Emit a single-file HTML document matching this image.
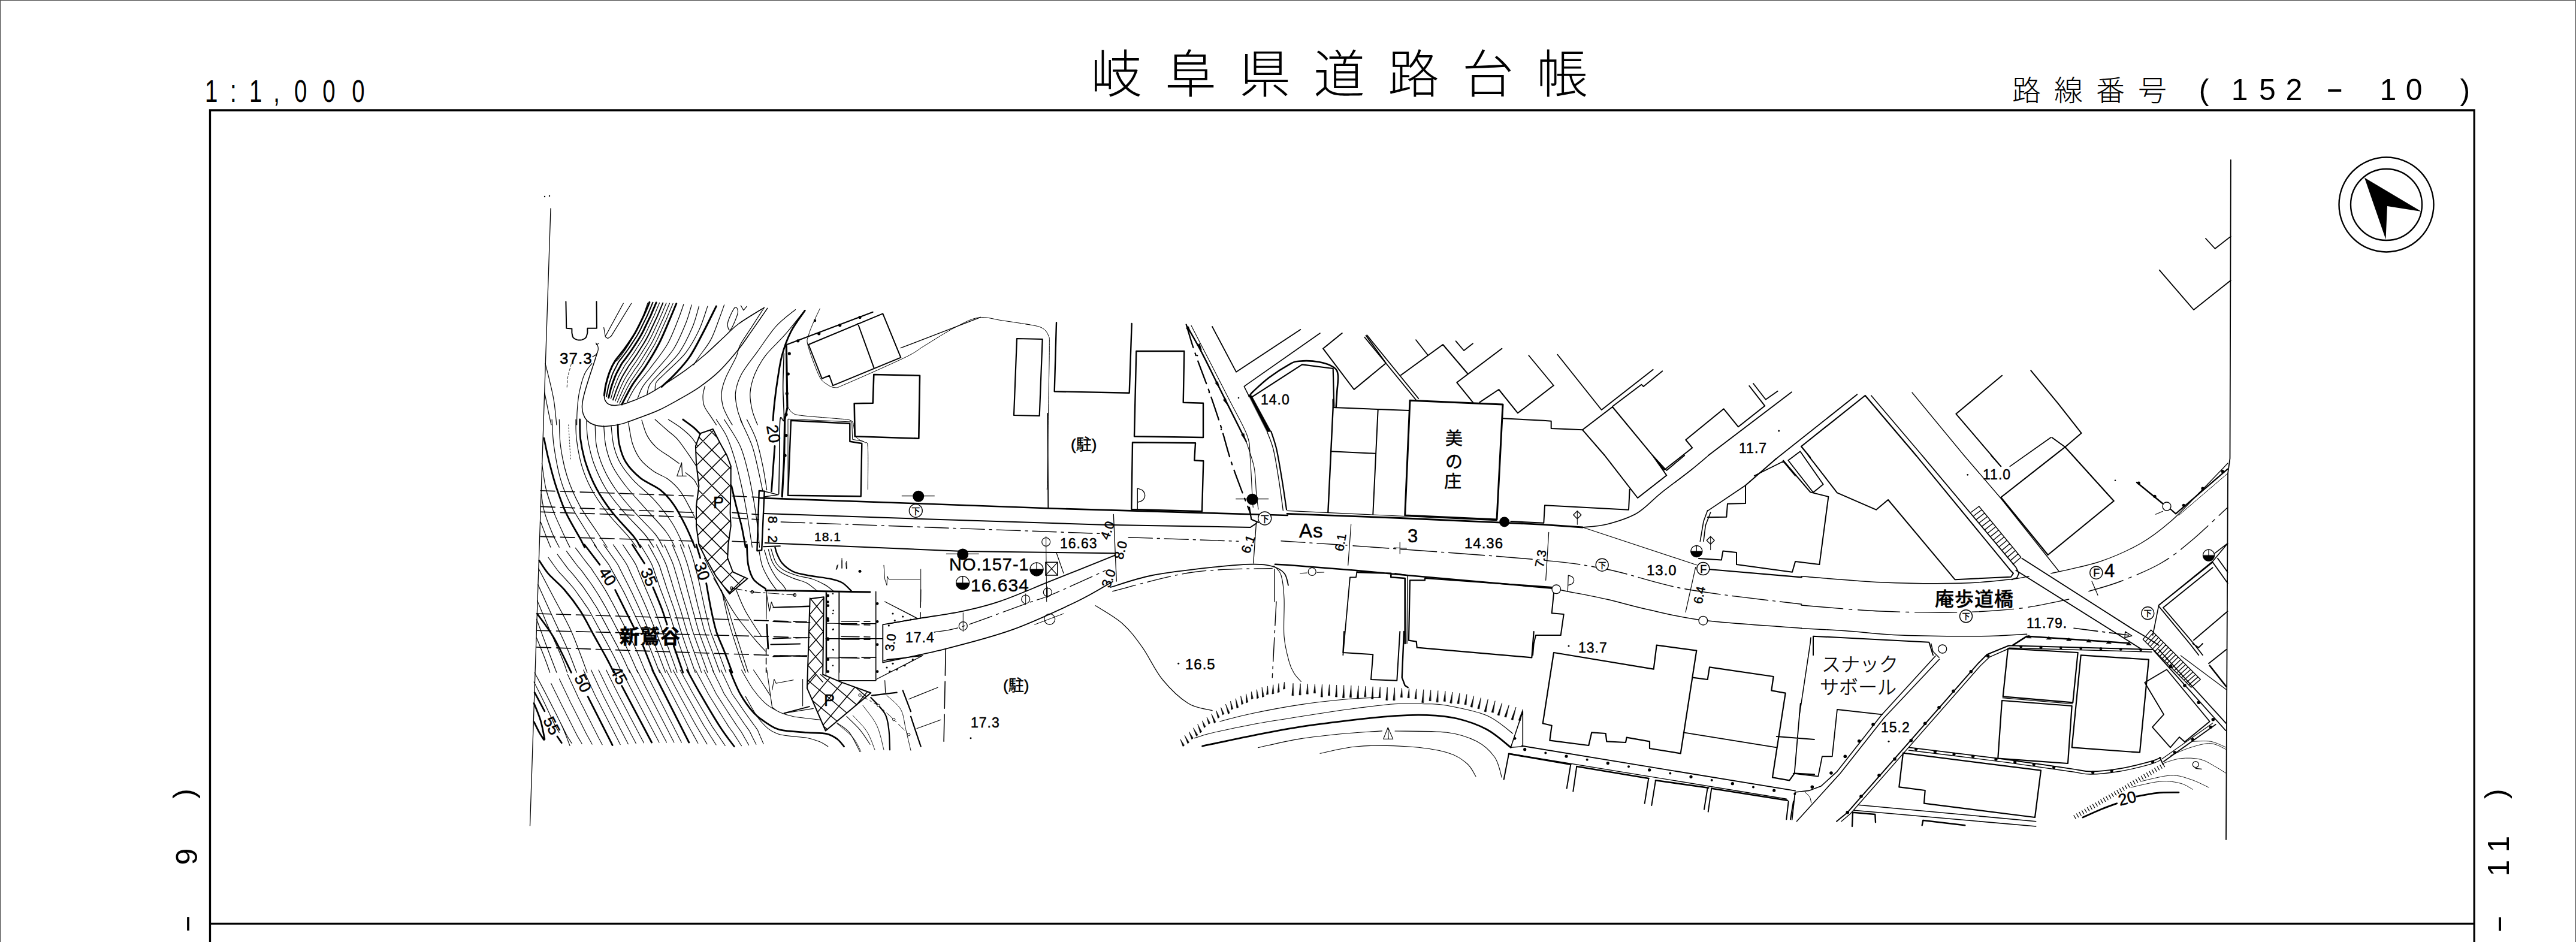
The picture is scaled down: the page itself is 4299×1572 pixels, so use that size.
<!DOCTYPE html>
<html lang="ja">
<head>
<meta charset="utf-8">
<title>岐阜県道路台帳</title>
<style>
html,body{margin:0;padding:0;background:#fff;}
body{width:4299px;height:1572px;overflow:hidden;}
svg{display:block;}
text{font-family:"Liberation Sans","Noto Sans CJK JP",sans-serif;fill:#000;}
.cj{font-family:"Liberation Sans","Noto Sans CJK JP",sans-serif;}
.l1{fill:none;stroke:#000;stroke-width:1.6;}
.l2{fill:none;stroke:#000;stroke-width:2.4;}
.l3{fill:none;stroke:#000;stroke-width:3.6;}
.l0{fill:none;stroke:#000;stroke-width:1;}
#map text{stroke:#000;stroke-width:.5px;}
</style>
</head>
<body>
<svg width="4299" height="1572" viewBox="0 0 4299 1572">
<rect x="0" y="0" width="4299" height="1572" fill="#fff"/>
<!-- outer border -->
<path d="M0 0.500H4299M0.500 0V1572M4298 0V1572" stroke="#555" stroke-width="1.500" fill="none"/>
<!-- frame -->
<path d="M350.500 1572V184H4129.200V1572M350.500 1541.300H4129.200" stroke="#000" stroke-width="3.300" fill="none"/>
<!-- header text -->
<g id="hdr">
<text transform="translate(0 170) scale(0.74 1)" text-anchor="middle" font-size="52" x="476.6 526.2 576.6 623.9 678.1 741.9 808.1">1:1,000</text>
<text class="cj" x="1820" y="155" font-size="86" font-weight="200" letter-spacing="38">岐阜県道路台帳</text>
<text class="cj" x="3358" y="168" font-size="48" font-weight="300" letter-spacing="22">路線番号</text>
<text text-anchor="middle" font-size="50" y="167"><tspan x="3678.2">(</tspan><tspan x="3708.0"> </tspan><tspan x="3737.7">1</tspan><tspan x="3783.9">5</tspan><tspan x="3828.4">2</tspan><tspan x="3862.0"> </tspan><tspan x="3896.3" y="164" textLength="30" lengthAdjust="spacingAndGlyphs">-</tspan><tspan x="3940.0" y="167"> </tspan><tspan x="3985.3">1</tspan><tspan x="4028.7">0</tspan><tspan x="4071.0"> </tspan><tspan x="4113.8">)</tspan></text>
</g>
<!-- compass -->
<g id="compass">
<circle cx="3982.500" cy="341.500" r="79" class="l2"/>
<circle cx="3982.500" cy="341.500" r="59.500" class="l2"/>
<path d="M3946 296.500L4041 353L3984 344L3981.500 399.500Z" fill="#000"/>
</g>
<!-- side labels -->
<g id="side">
<text transform="translate(311.0 1572) rotate(-90)" text-anchor="middle" font-size="50"><tspan x="30.5" y="15.5" textLength="31" lengthAdjust="spacingAndGlyphs">-</tspan><tspan x="82.0" y="17.9"> </tspan><tspan x="142.4" y="17.9">9</tspan><tspan x="192.0" y="17.9"> </tspan><tspan x="247.5" y="13.0">)</tspan></text>
<text transform="translate(4169.0 1572) rotate(-90)" text-anchor="middle" font-size="50"><tspan x="30.1" y="15.5" textLength="31" lengthAdjust="spacingAndGlyphs">-</tspan><tspan x="82.0" y="17.9"> </tspan><tspan x="123.3" y="17.9">1</tspan><tspan x="163.4" y="17.9">1</tspan><tspan x="202.0" y="17.9"> </tspan><tspan x="247.4" y="13.0">)</tspan></text>
</g>
<!-- MAP -->
<g id="map">
<path fill="none" stroke="#000" stroke-width="1.3" stroke-linejoin="round" stroke-linecap="round" d="M919 348L884.5 1378M1858.3 858.3L1863.3 970M2096.7 870L2091.7 940M2126.7 950L2126.7 1004M1898.3 815L1898.3 850M1898.3 815C1899.7 815.6 1904.6 816.4 1906.7 818.3C1908.7 820.3 1910.7 823.9 1910.7 826.7C1910.7 829.4 1908.7 833.1 1906.7 835C1904.6 836.9 1899.7 837.8 1898.3 838.3M1741 950L1740.6 952.8 1739.5 955.5 1737.8 957.8 1735.5 959.5 1732.8 960.6 1730 961 1727.2 960.6 1724.5 959.5 1722.2 957.8 1720.5 955.5 1719.4 952.8 1719 950 1719.4 947.2 1720.5 944.5 1722.2 942.2 1724.5 940.5 1727.2 939.4 1730 939 1732.8 939.4 1735.5 940.5 1737.8 942.2 1739.5 944.5 1740.6 947.2ZM1617.7 972.7L1617.3 975.5 1616.2 978.2 1614.4 980.4 1612.2 982.2 1609.5 983.3 1606.7 983.7 1603.8 983.3 1601.2 982.2 1598.9 980.4 1597.1 978.2 1596 975.5 1595.7 972.7 1596 969.8 1597.1 967.2 1598.9 964.9 1601.2 963.1 1603.8 962 1606.7 961.7 1609.5 962 1612.2 963.1 1614.4 964.9 1616.2 967.2 1617.3 969.8ZM1290 1014L1351.7 1012.3M2114.7 720.7C2116.4 725.7 2122.1 737.5 2125.3 751C2128.6 764.5 2131.7 784.8 2134.3 801.7C2137 818.5 2140.2 843.6 2141.3 852M2840.8 920L2840.5 922.5 2839.6 924.8 2838.1 926.7 2836.1 928.2 2833.8 929.2 2831.3 929.5 2828.9 929.2 2826.6 928.2 2824.6 926.7 2823.1 924.8 2822.2 922.5 2821.8 920 2822.2 917.5 2823.1 915.2 2824.6 913.3 2826.6 911.8 2828.9 910.8 2831.3 910.5 2833.8 910.8 2836.1 911.8 2838.1 913.3 2839.6 915.2 2840.5 917.5ZM2632.3 852.8L2638.8 859.3 2632.3 865.8 2625.8 859.3ZM2854.7 895.2L2861.2 901.7 2854.7 908.2 2848.2 901.7ZM3422.7 956.7C3424.9 956.2 3422.1 957.3 3436 954C3449.9 950.7 3483.2 944.6 3506 936.7C3528.8 928.8 3553.2 917.8 3572.7 906.7C3592.1 895.6 3606.6 883.9 3622.7 870C3638.8 856.1 3653.5 839.4 3669.3 823.3C3685.2 807.2 3709.6 781.7 3717.7 773.3M3695.5 926.7L3695.2 929.1 3694.2 931.4 3692.7 933.4 3690.8 934.9 3688.5 935.8 3686 936.2 3683.5 935.8 3681.2 934.9 3679.3 933.4 3677.8 931.4 3676.8 929.1 3676.5 926.7 3676.8 924.2 3677.8 921.9 3679.3 919.9 3681.2 918.4 3683.5 917.5 3686 917.2 3688.5 917.5 3690.8 918.4 3692.7 919.9 3694.2 921.9 3695.2 924.2ZM3191 655L3277.7 760M3185.3 1252C3210.1 1255.1 3289.2 1264.5 3333.7 1270.3C3378.1 1276.2 3426.2 1283.4 3452 1287C3477.8 1290.6 3474.2 1292 3488.7 1292C3503.1 1292 3522 1289.8 3538.7 1287C3555.3 1284.2 3577.6 1278.4 3588.7 1275.3C3599.8 1272.3 3602.6 1269.8 3605.3 1268.7M3461 1360.7L3464.2 1366.3M3465.5 1358L3468.7 1363.6M3470 1355.4L3473.2 1361M3474.5 1352.8L3477.7 1358.4M3479 1350.2L3482.2 1355.8M3483.5 1347.5L3486.7 1353.1M3488 1344.9L3491.2 1350.5M3492.5 1342.3L3495.7 1347.9M3497 1339.7L3500.2 1345.3M3501.5 1337L3504.7 1342.6M3505.9 1334.4L3509.1 1340M3510.4 1331.8L3513.6 1337.4M3514.9 1329.2L3518.1 1334.8M3519.4 1326.5L3522.6 1332.1M3523.9 1323.9L3527.1 1329.5M3528.4 1321.3L3531.6 1326.9M3532.9 1318.6L3536.1 1324.2M3537.4 1316L3540.6 1321.6M3541.9 1313.4L3545.1 1319M3546.4 1310.8L3549.6 1316.4M3550.9 1308.1L3554.1 1313.7M3555.4 1305.5L3558.6 1311.1M3559.9 1302.9L3563.1 1308.5M3564.4 1300.3L3567.6 1305.9M3568.9 1297.6L3572.1 1303.2M3573.4 1295L3576.6 1300.6M3577.9 1292.4L3581.1 1298M3582.4 1289.8L3585.6 1295.4M3586.9 1287.1L3590.1 1292.7M3591.4 1284.5L3594.6 1290.1M3595.8 1281.9L3599 1287.5M3600.3 1279.3L3603.5 1284.9M3604.8 1276.6L3608 1282.2M3609.3 1274L3612.5 1279.6"/>
<path fill="none" stroke="#000" stroke-width="2" stroke-linejoin="round" stroke-linecap="round" d="M944.4 503.3L945.3 547.7 954.4 548.4 954.4 555.5M954.4 555.5C954.8 556.8 955.1 561.4 956.6 563.3C958.1 565.2 960.9 566.4 963.3 567.1C965.7 567.7 968.7 567.7 971.1 567.1C973.5 566.4 976.2 565.2 977.7 563.3C979.3 561.4 979.9 556.8 980.4 555.5M980.4 555.5L980.4 547.7 995.9 547.7 995.5 503.3M1012 661.8C1012.3 660.5 1013 656.8 1013.5 654.3C1014 651.8 1014.4 649.3 1015 646.8C1015.6 644.3 1016.3 641.9 1017.1 639.4C1017.8 637 1018.7 634.5 1019.5 632.1C1020.3 629.7 1021 627.2 1021.9 624.9C1022.9 622.5 1024 620.2 1025.1 617.9C1026.2 615.6 1027.5 613.4 1028.7 611.1C1029.8 608.8 1030.9 606.5 1032.2 604.3C1033.6 602.2 1035.3 600.2 1036.9 598.2C1038.4 596.1 1040 594.1 1041.5 592C1043 590 1044.6 588 1046.1 585.9C1047.6 583.8 1049 581.7 1050.5 579.6C1051.9 577.4 1053.3 575.3 1054.7 573.1C1056.1 571 1057.5 568.9 1058.9 566.7C1060.3 564.6 1061.7 562.4 1063.1 560.2C1064.4 558 1065.7 555.8 1066.9 553.6C1068.1 551.3 1069.1 549 1070.3 546.7C1071.4 544.4 1072.5 542.1 1073.7 539.8C1074.8 537.5 1075.9 535.2 1077.1 532.9C1078.2 530.6 1079.4 528.3 1080.4 526C1081.5 523.6 1082.5 521.3 1083.5 518.9C1084.5 516.5 1085.5 514.2 1086.5 511.8C1087.5 509.4 1089 505.9 1089.5 504.7M1023 667.4C1023.4 666.2 1024.7 662.5 1025.6 660C1026.4 657.5 1027.2 655 1028.1 652.6C1029 650.1 1030 647.7 1031 645.2C1032 642.8 1033 640.3 1034.1 637.9C1035.1 635.5 1036.2 633.1 1037.4 630.7C1038.6 628.4 1039.9 626.1 1041.3 623.8C1042.6 621.6 1044 619.3 1045.4 617C1046.8 614.8 1048 612.5 1049.5 610.3C1051 608.1 1052.7 606 1054.2 603.8C1055.8 601.7 1057.2 599.5 1058.7 597.3C1060.2 595.1 1061.7 592.9 1063.2 590.7C1064.6 588.4 1066 586.2 1067.5 584C1068.9 581.7 1070.3 579.5 1071.7 577.2C1073.1 575 1074.6 572.7 1075.9 570.4C1077.3 568.2 1078.6 565.9 1079.8 563.5C1081.1 561.2 1082.3 558.8 1083.5 556.5C1084.6 554.1 1085.7 551.7 1086.9 549.2C1088 546.8 1089.1 544.4 1090.3 542C1091.4 539.6 1092.5 537.2 1093.6 534.8C1094.8 532.4 1095.9 530 1097 527.6C1098.1 525.2 1099.1 522.7 1100.1 520.3C1101.2 517.8 1102.2 515.4 1103.2 512.9C1104.2 510.5 1105.8 506.8 1106.3 505.6M1168.7 723.3L1189.8 716 1202 740 1213.1 760 1219.7 777.7 1219.7 806.6 1218.6 855.4 1219.7 877.6 1215.3 908.9 1214.2 931.2 1223.1 954.5 1247.5 965.6 1217.5 991.1 1195.3 962.2 1177.5 931.2 1166.4 908.9 1162 877.6 1162 844.3 1166.4 811 1162 773.3 1160.9 744.4ZM1274.1 912.3L1301.9 911.2M1286.4 1075.5L1335.2 1074.4M1301.9 1094.4L1335.2 1094.4M1351.7 999.3L1374.8 996.2 1373.2 1125.5 1402.5 1137.9 1453.3 1156.3 1377.8 1219.5 1347 1148.6ZM1308.6 1190.2L1350.7 1179.1M1313.3 575L1456.7 520.7M1349.3 575L1473.3 523.3 1503.3 596.7 1390 643.3 1384 626.7 1371.7 631.7ZM1431.7 540L1458.3 613.3M1275.7 857L1530 865.7 1840 875.7 2086.7 880 2096.7 873.3M1276.7 906L1606.7 920 1860 923.3M2239.7 556L2208 581.7 2259.7 650 2313 606 2279.7 560M2338 626L2408 575 2449.7 624M2506.3 581.7L2431.3 638.3 2458 671.3M2469.3 671.3L2501.3 650 2533 689.3 2592.7 643.3M2224.7 680L2351.3 685M2299.7 683.3L2291.3 858.3M2221.3 753.3L2294.7 756.7M2521.3 870L2576.3 872.7 2578 843.3 2718 850.7 2719.7 816.7M2678 760L2733 831 2781.3 793.3 2758 760M2964.7 765L2913 810 2913 840 2883 840.7 2881.3 862.7 2849.7 863.3M2593 990L2589.7 1023.3 2609.7 1025 2604.7 1060 2563 1060 2559.7 1074 2558 1093.3M2243 1054L2241.3 1089 2291.3 1092.3 2288 1134 2331.3 1135.7 2336.3 1054M2518 1258L2509.7 1300.7M2621.3 1275.7L2614.7 1315.7M2631.3 1279L2625.3 1320.7M2751.3 1299L2744.7 1340.7M2763 1302.3L2756.3 1344M2849.7 1314.7L2844 1350.7M2856.3 1315.7L2850.7 1354.7M2984.7 1337.3L2981.3 1367.3M2993 1337.3L2988 1367.3M2976 768.5L3021.3 821.4 3051.4 828.9 3036.4 942.1 2996.1 937.1 2991 954.7 2898 942.1 2898 922 2875.4 919.5 2872.8 934.6 2835 932M3017.7 760L3066 822.3 3131 850.7 3151 834 3262.7 967.3 3356 962.7 3360 956.7 3354.3 950.7 3197.7 760M3026 1093.3L3026 1061.7 3219.3 1071.7 3226 1093.3M2508 698.3L2576 701.7 2588.7 702.7 2588.7 715 2641 717.3M2641 717.3L2691 679 2777.7 784 2824.3 747.3 2813.3 734 2876.7 682.3 2901 712.3 2945.3 677.3 2919.3 644M2641 717.3L2678 760M3341 626.7L3264.3 690.7 3339.3 778.3M3389.3 618.3L3434.7 673.3 3473.6 722.8 3446.4 746 3424.3 730M3592.7 1084L3352.7 1077.3 3316 1092.3 3301 1107.3 3083.3 1355.7 3065 1370.7M3604.3 1264L3610 1275.7"/>
<path fill="none" stroke="#000" stroke-width="1.2" stroke-linejoin="round" stroke-linecap="round" d="M1007.7 546.6L1010.4 562.2 1014.4 564.8 1019.9 561.1 1053.7 506.2M1011 560L1040.3 506.2M994.4 572.2C994.9 573.1 997.1 575.7 997.7 577.7C998.3 579.8 998.5 582.2 998.1 584.4C997.8 586.6 997 589.2 995.5 591C993.9 592.9 989.9 594.7 988.8 595.5M995 575.5L998.8 573.3M1019.4 665.5C1019.7 664.3 1020.8 660.6 1021.5 658.1C1022.3 655.6 1022.9 653.1 1023.7 650.6C1024.5 648.2 1025.4 645.7 1026.4 643.3C1027.3 640.8 1028.2 638.4 1029.2 636C1030.2 633.6 1031.1 631.1 1032.2 628.8C1033.3 626.4 1034.6 624.1 1035.9 621.9C1037.1 619.6 1038.5 617.3 1039.8 615.1C1041.1 612.8 1042.3 610.5 1043.7 608.3C1045.2 606.1 1046.9 604.1 1048.5 602C1050 599.8 1051.5 597.7 1053 595.5C1054.5 593.4 1056 591.2 1057.5 589.1C1058.9 586.9 1060.4 584.7 1061.8 582.5C1063.2 580.3 1064.6 578.1 1066 575.8C1067.4 573.6 1068.9 571.4 1070.2 569.2C1071.6 567 1073 564.7 1074.2 562.4C1075.5 560.2 1076.8 557.8 1077.9 555.5C1079.1 553.2 1080.2 550.8 1081.3 548.4C1082.5 546 1083.6 543.6 1084.7 541.3C1085.9 538.9 1087 536.5 1088.1 534.2C1089.2 531.8 1090.4 529.4 1091.5 527C1092.6 524.7 1093.6 522.2 1094.6 519.8C1095.6 517.4 1096.6 515 1097.6 512.5C1098.6 510.1 1100.2 506.5 1100.7 505.3M1026.7 669.3C1027.2 668.1 1028.6 664.4 1029.6 661.9C1030.6 659.4 1031.5 657 1032.5 654.5C1033.5 652 1034.6 649.6 1035.6 647.1C1036.7 644.7 1037.8 642.2 1038.9 639.8C1040.1 637.4 1041.2 635 1042.5 632.7C1043.8 630.4 1045.2 628.1 1046.6 625.8C1048.1 623.5 1049.5 621.3 1051 619C1052.4 616.8 1053.7 614.5 1055.3 612.2C1056.8 610 1058.5 607.9 1060 605.7C1061.6 603.5 1063 601.2 1064.4 599C1065.9 596.8 1067.4 594.5 1068.8 592.3C1070.3 590 1071.7 587.7 1073.1 585.4C1074.5 583.1 1075.9 580.9 1077.3 578.6C1078.8 576.3 1080.2 574 1081.6 571.7C1082.9 569.4 1084.2 567 1085.4 564.6C1086.7 562.3 1087.8 559.8 1089 557.4C1090.2 555 1091.3 552.5 1092.4 550.1C1093.5 547.7 1094.7 545.2 1095.8 542.8C1096.9 540.4 1098.1 537.9 1099.2 535.5C1100.3 533 1101.4 530.6 1102.5 528.1C1103.6 525.7 1104.6 523.2 1105.7 520.7C1106.7 518.2 1107.7 515.7 1108.8 513.3C1109.8 510.8 1111.4 507.1 1111.9 505.8M1030.3 671.2C1030.9 670 1032.5 666.3 1033.6 663.8C1034.7 661.4 1035.7 658.9 1036.9 656.4C1038 654 1039.1 651.5 1040.3 649.1C1041.4 646.6 1042.6 644.2 1043.8 641.8C1045 639.3 1046.3 637 1047.7 634.6C1049 632.3 1050.6 630.1 1052 627.8C1053.5 625.5 1055 623.3 1056.5 621C1058 618.7 1059.5 616.4 1061 614.2C1062.6 612 1064.3 609.9 1065.8 607.6C1067.3 605.4 1068.7 603 1070.2 600.7C1071.6 598.4 1073.1 596.2 1074.5 593.8C1076 591.5 1077.4 589.2 1078.8 586.9C1080.2 584.6 1081.6 582.2 1083 579.9C1084.4 577.6 1085.9 575.3 1087.2 572.9C1088.6 570.6 1089.8 568.2 1091 565.7C1092.2 563.3 1093.4 560.9 1094.5 558.4C1095.7 555.9 1096.8 553.4 1097.9 551C1099.1 548.5 1100.2 546 1101.3 543.5C1102.5 541.1 1103.6 538.6 1104.7 536.1C1105.8 533.7 1107 531.2 1108 528.7C1109.1 526.2 1110.2 523.7 1111.2 521.2C1112.3 518.7 1113.3 516.1 1114.4 513.6C1115.4 511.1 1117 507.4 1117.5 506.1M1034 673.1C1034.6 671.9 1036.4 668.2 1037.6 665.7C1038.8 663.3 1040 660.8 1041.2 658.4C1042.5 655.9 1043.7 653.5 1044.9 651C1046.2 648.6 1047.4 646.1 1048.7 643.7C1050 641.3 1051.4 638.9 1052.8 636.6C1054.3 634.3 1055.9 632 1057.4 629.8C1059 627.5 1060.5 625.3 1062.1 623C1063.7 620.7 1065.2 618.4 1066.8 616.2C1068.4 613.9 1070.1 611.8 1071.6 609.5C1073.1 607.2 1074.5 604.8 1075.9 602.5C1077.3 600.1 1078.8 597.8 1080.2 595.4C1081.6 593.1 1083 590.7 1084.4 588.4C1085.9 586 1087.3 583.6 1088.7 581.3C1090.1 578.9 1091.6 576.6 1092.9 574.2C1094.2 571.8 1095.4 569.3 1096.6 566.8C1097.8 564.4 1098.9 561.9 1100.1 559.4C1101.2 556.9 1102.3 554.3 1103.5 551.8C1104.6 549.3 1105.7 546.8 1106.9 544.3C1108 541.8 1109.1 539.3 1110.2 536.8C1111.4 534.3 1112.5 531.8 1113.6 529.2C1114.6 526.7 1115.7 524.2 1116.7 521.6C1117.8 519.1 1118.9 516.5 1119.9 514C1121 511.5 1122.6 507.7 1123.1 506.4M1024.3 604.4C1025.8 603.3 1028 604.4 1033.2 597.7C1038.4 591 1049.1 575.1 1055.4 564.4C1061.7 553.7 1066.7 543.1 1071 533.3C1075.2 523.5 1079.3 510.2 1081 505.6M1046.6 671C1048.8 666.9 1053.6 655.8 1059.9 646.6C1066.2 637.3 1075.4 627.3 1084.3 615.5C1093.2 603.6 1105.4 588.8 1113.2 575.5C1120.9 562.2 1126.3 546.8 1130.9 535.5C1135.6 524.2 1139.3 512.4 1140.9 507.8M1064.3 664.3C1065.8 661 1068.4 651.7 1073.2 644.3C1078 636.9 1084.7 630.3 1093.2 619.9C1101.7 609.5 1115.8 595.5 1124.3 582.2C1132.8 568.8 1139.3 552.2 1144.3 540C1149.3 527.8 1152.6 514.1 1154.2 508.9M1079.9 657.7C1080.6 655.1 1081 647.7 1084.3 642.1C1087.6 636.6 1091.7 633.2 1099.8 624.3C1108 615.5 1123.9 601.8 1133.2 588.8C1142.4 575.9 1149.8 559.6 1155.4 546.6C1160.9 533.7 1164.6 517 1166.5 511.1M1093.2 651C1093.6 648.8 1092.4 642.5 1095.4 637.7C1098.4 632.9 1102.8 630.3 1110.9 622.1C1119.1 614 1135 600.7 1144.3 588.8C1153.5 577 1160.4 564 1166.5 551.1C1172.6 538.1 1178.5 517.8 1180.9 511.1M1157.6 608.8C1159.1 606.6 1161.6 602.5 1166.5 595.5C1171.3 588.4 1180.9 577 1186.4 566.6C1192 556.3 1196.1 542.9 1199.8 533.3C1203.5 523.7 1207.2 513 1208.6 508.9M1226.4 513.3C1229.1 511.1 1232.3 516.3 1231.3 522.2C1230.3 528.1 1222.9 544.6 1220.2 548.9C1217.5 553.1 1216.1 550 1215.3 547.7C1214.5 545.5 1213.5 541.3 1215.3 535.5C1217.2 529.8 1223.7 515.5 1226.4 513.3ZM1236.4 510L1240.8 517.8 1246.4 511.1M1176.5 644.3C1175.9 646.9 1173.3 654.3 1173.1 659.9C1172.9 665.4 1173.1 671.7 1175.3 677.6C1177.6 683.6 1183.1 690.2 1186.4 695.4C1189.8 700.6 1193.8 706.7 1195.3 708.9M1275.3 513.3C1271.9 518.5 1261.9 534 1255.3 544.4C1248.6 554.8 1239.7 567 1235.3 575.5C1230.9 584 1232.7 586.2 1228.6 595.5C1224.6 604.7 1214.9 621 1210.9 631C1206.8 641 1204.9 647.7 1204.2 655.4C1203.5 663.2 1204.6 670.6 1206.4 677.6C1208.3 684.7 1212.7 692.4 1215.3 697.6C1217.9 702.8 1220.9 707.1 1222 708.9M1327.4 516.7C1322.1 521.3 1305.8 532.8 1295.2 544.4C1284.7 556.1 1273.8 573.3 1264.2 586.6C1254.5 599.9 1243.6 612.9 1237.5 624.3C1231.4 635.8 1228.6 645.4 1227.5 655.4C1226.4 665.4 1228.8 675.4 1230.9 684.3C1232.9 693.2 1238.3 704.8 1239.7 708.9M1343 517.8C1337.6 524.4 1321.7 545.2 1310.8 557.7C1299.9 570.3 1286 582.2 1277.5 593.3C1269 604.4 1264 614 1259.7 624.3C1255.5 634.7 1252.7 645.4 1251.9 655.4C1251.2 665.4 1253.2 675.4 1255.3 684.3C1257.3 693.2 1262.7 704.8 1264.2 708.9M910 606.6C911.1 611 914.2 622.9 916.7 633.2C919.1 643.6 922.4 656.1 924.4 668.8C926.5 681.4 928.1 702.3 928.9 708.9M908.9 655.4C910 661 913.7 679.8 915.5 688.7C917.4 697.7 919.2 705.6 920 708.9M987.7 606.6C985.7 609.5 979 616.2 975.5 624.3C972 632.5 968.7 645.4 966.6 655.4C964.6 665.4 964 675.4 963.3 684.3C962.6 693.2 962.7 704.8 962.6 708.9M904.4 773.3C905.5 780.3 907.8 801.8 911.1 815.5C914.4 829.2 918.9 841.4 924.4 855.4C930 869.5 940 890.2 944.4 899.8C948.8 909.5 949.9 910.9 951.1 913.2M903.3 824.3C904.2 829.5 905.7 844.3 908.9 855.4C912 866.5 918.1 881.3 922.2 891C926.3 900.6 931.4 909.5 933.3 913.2M902.2 871C904.1 875.8 910.5 892.8 913.3 899.8C916.1 906.9 917.9 910.9 918.9 913.2M921.1 700C921.6 707.4 922 727.8 924.4 744.4C926.8 761.1 930.7 783.3 935.5 799.9C940.3 816.6 945.9 829.5 953.3 844.3C960.7 859.1 972.9 877.3 979.9 888.7C987 900.2 992.9 909.1 995.5 913.2M933.3 700C933.7 707.4 933.3 728.5 935.5 744.4C937.7 760.3 941.4 779.2 946.6 795.5C951.8 811.8 958.5 826.9 966.6 842.1C974.7 857.3 987.7 874.7 995.5 886.5C1003.2 898.4 1010.3 908.7 1013.2 913.2M961 700C961.2 705.6 960.5 720.4 962.2 733.3C963.8 746.3 967 764 971 777.7C975.1 791.4 979.6 802.5 986.6 815.5C993.6 828.4 1002.9 842.1 1013.2 855.4C1023.6 868.8 1040.6 885.8 1048.8 895.4C1056.9 905 1059.9 910.2 1062.1 913.2M978.8 702.2C979.2 707.4 979 721.5 981 733.3C983.1 745.2 986 759.6 991 773.3C996 787 1002.9 802.1 1011 815.5C1019.2 828.8 1029.1 840.6 1039.9 853.2C1050.6 865.8 1066.9 881 1075.4 891C1083.9 901 1088.4 909.5 1090.9 913.2M993.2 710C993.6 715.7 993.2 732.8 995.5 744.4C997.7 756.1 1001.4 768.1 1006.6 779.9C1011.7 791.8 1018 803.3 1026.6 815.5C1035.1 827.7 1046.5 840.6 1057.6 853.2C1068.7 865.8 1085 881 1093.2 891C1101.3 901 1104.3 909.5 1106.5 913.2M1007.7 710.7C1008.2 716.3 1008.6 733.2 1011 744.4C1013.4 755.6 1016.6 766.6 1022.1 777.7C1027.7 788.8 1035.4 799.6 1044.3 811C1053.2 822.5 1064.3 834 1075.4 846.6C1086.5 859.1 1102.4 875.4 1110.9 886.5C1119.4 897.6 1123.9 908.7 1126.5 913.2M1019.9 710C1020.6 715.7 1021.7 733.9 1024.3 744.4C1026.9 755 1029.9 763.7 1035.4 773.3C1041 782.9 1048.4 792.2 1057.6 802.1C1066.9 812.1 1080.2 821.4 1090.9 833.2C1101.7 845.1 1113.5 859.9 1122 873.2C1130.5 886.5 1138.7 906.5 1142 913.2M1048.8 705.6C1049.9 711.3 1052.1 729.8 1055.4 740C1058.7 750.1 1062.8 758.8 1068.7 766.6C1074.7 774.4 1083.2 781 1090.9 786.6C1098.7 792.2 1108 794.4 1115.4 799.9C1122.8 805.5 1129.1 811.4 1135.4 819.9C1141.6 828.4 1148.7 842.9 1153.1 851C1157.6 859.1 1160.5 865.8 1162 868.8M1071 701.1C1072.4 705.4 1075.8 719.1 1079.8 726.6C1083.9 734.2 1089.1 740.7 1095.4 746.6C1101.7 752.6 1111.3 757.7 1117.6 762.2C1123.9 766.6 1130.5 771.4 1133.1 773.3M1144.2 788.8C1146.5 790.7 1154 795.9 1157.6 799.9C1161.1 804 1164 811 1165.3 813.2M1093.2 700C1096.5 703 1106.9 712.2 1113.2 717.8C1119.4 723.3 1125 726.6 1130.9 733.3C1136.8 740 1143.5 750.3 1148.7 757.7C1153.9 765.1 1159.8 774.4 1162 777.7M1115.4 700C1118.7 702.2 1129.1 708.5 1135.4 713.3C1141.6 718.1 1148.3 723.7 1153.1 728.9C1157.9 734 1162.4 741.8 1164.2 744.4M1195.3 700C1198.3 704.8 1207.9 717.8 1213.1 728.9C1218.3 740 1222.3 752.9 1226.4 766.6C1230.5 780.3 1234.2 796.2 1237.5 811C1240.8 825.8 1243.4 838.4 1246.4 855.4C1249.3 872.5 1253.8 903.5 1255.3 913.2M1208.6 700C1213.1 707.4 1228.6 729.6 1235.3 744.4C1241.9 759.2 1244.9 774 1248.6 788.8C1252.3 803.6 1254.9 818.4 1257.5 833.2C1260.1 848 1262.5 864.3 1264.1 877.6C1265.8 891 1266.9 907.2 1267.5 913.2M1235.3 700C1238.6 707.4 1250.1 729.6 1255.3 744.4C1260.4 759.2 1263.4 776.2 1266.4 788.8C1269.3 801.4 1271.9 814.7 1273 819.9M1246.4 700C1249 705.6 1257.5 720.4 1261.9 733.3C1266.4 746.3 1270.1 763.7 1273 777.7C1276 791.8 1278.6 811 1279.7 817.7M1137.6 772.2L1129.8 794.4 1145.3 794.4M1137.6 772.2L1138.7 794.4M915.1 930.3C916 931.7 918.9 935.7 920.9 938.4C922.8 941.1 924.7 943.9 926.7 946.5C928.6 949.2 930.5 951.9 932.7 954.4C934.8 956.9 937.3 959.2 939.5 961.7C941.8 964.1 943.9 966.6 946.2 969C948.4 971.5 950.6 973.9 952.8 976.4C955 978.9 957.1 981.4 959.1 984C961.1 986.6 963 989.4 964.9 992.1C966.8 994.8 968.8 997.5 970.7 1000.2C972.6 1002.9 974.4 1005.6 976.3 1008.4C978.2 1011.1 980.2 1013.7 982 1016.5C983.7 1019.3 985.2 1022.3 986.8 1025.2C988.4 1028.1 990 1031 991.6 1034C993.2 1036.9 994.8 1039.8 996.3 1042.7C997.9 1045.6 999.5 1048.5 1001.1 1051.5C1002.7 1054.4 1004.3 1057.3 1005.9 1060.2C1007.4 1063.1 1009 1066 1010.6 1068.9C1012.2 1071.9 1013.8 1074.8 1015.4 1077.7C1016.9 1080.6 1018.5 1083.5 1020 1086.5C1021.6 1089.4 1023.1 1092.3 1024.6 1095.3C1026.1 1098.3 1027.6 1101.2 1029.1 1104.2C1030.5 1107.2 1031.9 1110.2 1033.4 1113.2C1034.8 1116.2 1036.9 1120.7 1037.7 1122.2M930.2 925C931.2 926.4 934.1 930.4 936.1 933.2C938.1 935.9 940.1 938.6 942.1 941.3C944.1 944 946.1 946.8 948.2 949.4C950.4 952 952.8 954.3 954.9 956.9C957.1 959.4 959.2 962.1 961.3 964.7C963.4 967.3 965.6 969.8 967.6 972.5C969.7 975.1 971.8 977.7 973.7 980.4C975.7 983.2 977.6 986 979.5 988.8C981.3 991.6 983.2 994.3 985.1 997.2C986.9 1000 988.7 1002.8 990.5 1005.7C992.3 1008.5 994.2 1011.3 995.9 1014.1C997.6 1017 999.2 1020 1000.8 1023C1002.4 1026 1003.9 1029 1005.5 1031.9C1007.1 1034.9 1008.7 1037.9 1010.3 1040.9C1011.8 1043.8 1013.4 1046.8 1015 1049.8C1016.6 1052.8 1018.2 1055.7 1019.8 1058.7C1021.3 1061.7 1022.9 1064.7 1024.5 1067.6C1026.1 1070.6 1027.7 1073.6 1029.3 1076.6C1030.8 1079.6 1032.3 1082.6 1033.8 1085.6C1035.3 1088.6 1036.8 1091.6 1038.3 1094.7C1039.7 1097.7 1041.2 1100.7 1042.6 1103.8C1044 1106.8 1045.4 1109.9 1046.8 1113C1048.2 1116 1050.3 1120.6 1051 1122.2M945.3 919.7C946.3 921 949.4 925.2 951.4 927.9C953.4 930.7 955.4 933.4 957.5 936.2C959.6 938.9 961.6 941.6 963.7 944.3C965.9 947 968.2 949.5 970.4 952.1C972.5 954.8 974.4 957.6 976.4 960.3C978.4 963.1 980.5 965.8 982.5 968.5C984.5 971.3 986.5 974.1 988.4 976.9C990.3 979.7 992.2 982.6 994 985.5C995.9 988.3 997.7 991.2 999.5 994.1C1001.3 997 1002.9 1000 1004.7 1002.9C1006.4 1005.9 1008.2 1008.8 1009.9 1011.8C1011.5 1014.7 1013.1 1017.8 1014.7 1020.8C1016.3 1023.8 1017.8 1026.9 1019.4 1029.9C1021 1033 1022.6 1036 1024.2 1039C1025.7 1042.1 1027.3 1045.1 1028.9 1048.1C1030.5 1051.2 1032.1 1054.2 1033.7 1057.2C1035.2 1060.3 1036.8 1063.3 1038.4 1066.3C1040 1069.4 1041.6 1072.4 1043.1 1075.5C1044.7 1078.5 1046.2 1081.6 1047.6 1084.7C1049.1 1087.8 1050.5 1090.9 1051.9 1094C1053.3 1097.1 1054.7 1100.2 1056.1 1103.4C1057.5 1106.5 1058.8 1109.6 1060.2 1112.8C1061.6 1115.9 1063.6 1120.6 1064.3 1122.2M960.4 914.3C961.4 915.7 964.6 919.9 966.7 922.7C968.7 925.4 970.8 928.2 972.9 931C975 933.7 977.1 936.5 979.3 939.3C981.4 942 983.7 944.6 985.8 947.4C987.8 950.2 989.6 953.1 991.5 956C993.5 958.9 995.4 961.7 997.3 964.6C999.2 967.5 1001.1 970.4 1003 973.3C1004.9 976.2 1006.8 979.2 1008.6 982.1C1010.4 985.1 1012.2 988.1 1013.9 991.1C1015.6 994.1 1017.2 997.2 1018.9 1000.2C1020.5 1003.3 1022.2 1006.3 1023.8 1009.4C1025.5 1012.4 1027 1015.5 1028.6 1018.6C1030.2 1021.7 1031.8 1024.8 1033.3 1027.9C1034.9 1031 1036.5 1034.1 1038.1 1037.2C1039.7 1040.3 1041.2 1043.4 1042.8 1046.5C1044.4 1049.6 1046 1052.7 1047.5 1055.8C1049.1 1058.9 1050.7 1062 1052.3 1065C1053.9 1068.1 1055.5 1071.2 1057 1074.3C1058.5 1077.5 1060 1080.6 1061.4 1083.8C1062.8 1086.9 1064.2 1090.2 1065.5 1093.3C1066.9 1096.5 1068.2 1099.7 1069.6 1102.9C1070.9 1106.1 1072.3 1109.3 1073.6 1112.6C1074.9 1115.8 1077 1120.6 1077.6 1122.2M991.5 909C992.5 910.4 995.6 914.6 997.7 917.4C999.8 920.2 1001.9 923 1003.9 925.8C1006 928.6 1008.1 931.4 1010.2 934.2C1012.2 937 1014.4 939.8 1016.3 942.7C1018.1 945.6 1019.6 948.8 1021.3 951.8C1023 954.9 1024.7 957.9 1026.4 960.9C1028.1 964 1029.8 967 1031.4 970.1C1033.1 973.1 1034.8 976.1 1036.5 979.2C1038.2 982.2 1039.8 985.3 1041.4 988.4C1043 991.5 1044.4 994.7 1046 997.8C1047.5 1001 1049 1004.1 1050.5 1007.3C1052 1010.4 1053.5 1013.5 1055 1016.7C1056.5 1019.8 1058 1023 1059.4 1026.2C1060.9 1029.3 1062.4 1032.5 1063.9 1035.6C1065.3 1038.8 1066.8 1041.9 1068.3 1045.1C1069.7 1048.3 1071.2 1051.4 1072.6 1054.6C1074.1 1057.8 1075.6 1060.9 1077 1064.1C1078.5 1067.2 1080 1070.4 1081.4 1073.6C1082.8 1076.7 1084.2 1079.9 1085.5 1083.2C1086.8 1086.4 1088 1089.7 1089.3 1092.9C1090.6 1096.2 1091.8 1099.4 1093.1 1102.7C1094.4 1105.9 1095.6 1109.2 1096.9 1112.4C1098.2 1115.7 1100.1 1120.5 1100.7 1122.2M1007.5 909C1008.5 910.4 1011.5 914.6 1013.5 917.4C1015.5 920.2 1017.5 923 1019.5 925.8C1021.5 928.6 1023.6 931.4 1025.5 934.2C1027.5 937 1029.6 939.8 1031.3 942.8C1033 945.7 1034.4 948.9 1035.9 952C1037.5 955 1039 958.1 1040.6 961.2C1042.1 964.2 1043.7 967.3 1045.2 970.3C1046.8 973.4 1048.4 976.5 1049.9 979.5C1051.4 982.6 1053 985.7 1054.5 988.8C1056 991.9 1057.4 995 1058.9 998.2C1060.3 1001.3 1061.8 1004.4 1063.2 1007.5C1064.7 1010.7 1066.1 1013.8 1067.5 1017C1068.9 1020.1 1070.2 1023.3 1071.6 1026.4C1073 1029.6 1074.4 1032.7 1075.7 1035.9C1077.1 1039.1 1078.4 1042.2 1079.8 1045.4C1081.1 1048.6 1082.5 1051.7 1083.8 1054.9C1085.2 1058.1 1086.5 1061.2 1087.9 1064.4C1089.2 1067.6 1090.6 1070.7 1091.9 1073.9C1093.2 1077.1 1094.5 1080.3 1095.8 1083.5C1097 1086.7 1098.2 1089.9 1099.4 1093.1C1100.7 1096.4 1101.9 1099.6 1103.1 1102.8C1104.4 1106 1105.6 1109.3 1106.8 1112.5C1108 1115.7 1109.9 1120.6 1110.5 1122.2M1023.4 909C1024.4 910.4 1027.3 914.6 1029.3 917.4C1031.2 920.2 1033.1 923 1035.1 925.8C1037 928.6 1039 931.4 1040.9 934.2C1042.8 937.1 1044.7 939.9 1046.3 942.8C1048 945.8 1049.2 949 1050.6 952.1C1052 955.2 1053.4 958.3 1054.8 961.4C1056.2 964.5 1057.6 967.5 1059 970.6C1060.5 973.7 1061.9 976.8 1063.3 979.9C1064.7 983 1066.2 986 1067.6 989.1C1069 992.2 1070.4 995.4 1071.8 998.5C1073.2 1001.6 1074.6 1004.7 1075.9 1007.8C1077.3 1011 1078.7 1014.1 1080 1017.2C1081.3 1020.4 1082.5 1023.5 1083.8 1026.7C1085.1 1029.9 1086.3 1033 1087.6 1036.2C1088.8 1039.3 1090.1 1042.5 1091.3 1045.7C1092.6 1048.9 1093.8 1052 1095 1055.2C1096.2 1058.4 1097.5 1061.5 1098.7 1064.7C1099.9 1067.9 1101.2 1071.1 1102.4 1074.2C1103.6 1077.4 1104.8 1080.6 1106 1083.8C1107.2 1087 1108.4 1090.2 1109.6 1093.4C1110.8 1096.6 1112 1099.8 1113.1 1103C1114.3 1106.2 1115.5 1109.4 1116.7 1112.6C1117.9 1115.8 1119.7 1120.6 1120.3 1122.2M1039.4 909C1040.4 910.4 1043.2 914.6 1045 917.4C1046.9 920.2 1048.8 923 1050.7 925.8C1052.5 928.6 1054.5 931.4 1056.3 934.2C1058.1 937.1 1059.9 939.9 1061.4 942.9C1062.9 945.9 1063.9 949.1 1065.2 952.2C1066.5 955.4 1067.8 958.5 1069 961.6C1070.3 964.7 1071.6 967.8 1072.8 970.9C1074.1 974 1075.4 977.2 1076.7 980.3C1078 983.4 1079.4 986.4 1080.7 989.5C1082.1 992.6 1083.4 995.7 1084.7 998.8C1086 1001.9 1087.3 1005 1088.6 1008.1C1089.9 1011.2 1091.3 1014.3 1092.5 1017.5C1093.7 1020.6 1094.8 1023.8 1096 1027C1097.1 1030.1 1098.3 1033.3 1099.5 1036.5C1100.6 1039.6 1101.7 1042.8 1102.9 1046C1104 1049.1 1105.1 1052.3 1106.2 1055.5C1107.3 1058.7 1108.4 1061.9 1109.5 1065C1110.7 1068.2 1111.7 1071.4 1112.9 1074.6C1114 1077.7 1115.2 1080.9 1116.3 1084.1C1117.4 1087.3 1118.6 1090.4 1119.7 1093.6C1120.9 1096.8 1122 1100 1123.2 1103.1C1124.3 1106.3 1125.5 1109.5 1126.6 1112.6C1127.7 1115.8 1129.5 1120.6 1130 1122.2M1068.7 909C1069.6 910.4 1072.1 914.7 1073.8 917.5C1075.5 920.4 1077.2 923.2 1078.9 926C1080.6 928.9 1082.4 931.7 1083.9 934.6C1085.5 937.5 1087.1 940.3 1088.4 943.4C1089.7 946.4 1090.6 949.7 1091.7 952.8C1092.8 955.9 1093.8 959.1 1094.9 962.2C1096 965.3 1097.1 968.5 1098.2 971.6C1099.2 974.7 1100.3 977.9 1101.4 981C1102.5 984.1 1103.7 987.2 1104.9 990.3C1106.1 993.4 1107.2 996.5 1108.4 999.6C1109.6 1002.7 1110.8 1005.8 1111.9 1008.9C1113.1 1012 1114.3 1015.1 1115.4 1018.3C1116.4 1021.4 1117.4 1024.6 1118.4 1027.7C1119.4 1030.9 1120.4 1034.1 1121.4 1037.2C1122.4 1040.4 1123.4 1043.6 1124.4 1046.7C1125.4 1049.9 1126.4 1053.1 1127.4 1056.2C1128.4 1059.4 1129.5 1062.5 1130.5 1065.7C1131.5 1068.9 1132.5 1072 1133.5 1075.2C1134.6 1078.3 1135.7 1081.5 1136.8 1084.6C1137.9 1087.7 1139 1090.9 1140.1 1094C1141.2 1097.1 1142.3 1100.2 1143.4 1103.4C1144.5 1106.5 1145.6 1109.6 1146.8 1112.8C1147.9 1115.9 1149.5 1120.6 1150.1 1122.2M1082.1 909C1082.9 910.4 1085.2 914.7 1086.8 917.6C1088.4 920.5 1090 923.4 1091.6 926.2C1093.1 929.1 1094.8 932 1096.2 934.9C1097.7 937.8 1099.2 940.7 1100.4 943.8C1101.6 946.8 1102.5 950.1 1103.5 953.2C1104.5 956.3 1105.6 959.5 1106.6 962.6C1107.6 965.7 1108.7 968.9 1109.7 972C1110.7 975.2 1111.7 978.3 1112.7 981.4C1113.7 984.6 1114.9 987.7 1116 990.8C1117 993.9 1118.1 997 1119.2 1000.1C1120.3 1003.2 1121.4 1006.3 1122.5 1009.4C1123.6 1012.5 1124.7 1015.6 1125.7 1018.8C1126.7 1021.9 1127.7 1025.1 1128.6 1028.2C1129.6 1031.4 1130.6 1034.5 1131.6 1037.7C1132.5 1040.9 1133.5 1044 1134.4 1047.2C1135.4 1050.3 1136.4 1053.5 1137.5 1056.6C1138.5 1059.8 1139.5 1062.9 1140.6 1066C1141.6 1069.2 1142.7 1072.3 1143.7 1075.4C1144.8 1078.6 1145.9 1081.7 1147 1084.8C1148.1 1087.9 1149.2 1091 1150.4 1094.1C1151.5 1097.3 1152.6 1100.4 1153.7 1103.5C1154.8 1106.6 1155.9 1109.7 1157 1112.8C1158.1 1115.9 1159.8 1120.6 1160.3 1122.2M1095.4 909C1096.1 910.5 1098.3 914.8 1099.8 917.7C1101.3 920.6 1102.8 923.5 1104.2 926.5C1105.7 929.4 1107.2 932.3 1108.5 935.2C1109.9 938.2 1111.2 941.1 1112.4 944.2C1113.5 947.3 1114.3 950.5 1115.3 953.6C1116.3 956.7 1117.3 959.9 1118.3 963C1119.3 966.1 1120.3 969.3 1121.2 972.4C1122.2 975.6 1123 978.7 1124 981.9C1125 985 1126 988.1 1127 991.2C1128 994.3 1129 997.4 1130 1000.6C1131 1003.7 1132 1006.8 1133 1009.9C1134.1 1013 1135.1 1016.1 1136.1 1019.3C1137.1 1022.4 1138 1025.6 1138.9 1028.7C1139.8 1031.9 1140.8 1035 1141.7 1038.2C1142.6 1041.3 1143.5 1044.5 1144.5 1047.7C1145.4 1050.8 1146.4 1053.9 1147.5 1057.1C1148.5 1060.2 1149.6 1063.3 1150.7 1066.4C1151.8 1069.5 1152.8 1072.6 1153.9 1075.7C1155 1078.8 1156.1 1081.9 1157.3 1085C1158.4 1088.1 1159.5 1091.2 1160.6 1094.3C1161.7 1097.4 1162.8 1100.5 1163.9 1103.6C1165 1106.7 1166.2 1109.8 1167.3 1112.9C1168.4 1116 1170.1 1120.6 1170.6 1122.2M1108.7 909C1109.4 910.5 1111.4 914.9 1112.8 917.8C1114.2 920.8 1115.6 923.7 1116.9 926.7C1118.2 929.6 1119.6 932.6 1120.8 935.5C1122.1 938.5 1123.3 941.5 1124.3 944.6C1125.4 947.7 1126.2 950.9 1127.1 954C1128.1 957.1 1129 960.3 1130 963.4C1130.9 966.5 1131.8 969.7 1132.7 972.8C1133.6 976 1134.4 979.1 1135.3 982.3C1136.2 985.4 1137.2 988.5 1138.1 991.6C1139 994.8 1139.9 997.9 1140.8 1001C1141.8 1004.2 1142.7 1007.3 1143.6 1010.4C1144.5 1013.5 1145.5 1016.6 1146.4 1019.8C1147.4 1022.9 1148.2 1026.1 1149.1 1029.2C1150 1032.4 1150.9 1035.5 1151.8 1038.7C1152.7 1041.8 1153.5 1045 1154.5 1048.1C1155.4 1051.3 1156.5 1054.4 1157.5 1057.5C1158.6 1060.6 1159.7 1063.6 1160.8 1066.7C1161.9 1069.8 1163 1072.9 1164.1 1076C1165.2 1079.1 1166.4 1082.1 1167.5 1085.2C1168.6 1088.3 1169.7 1091.4 1170.8 1094.4C1172 1097.5 1173.1 1100.6 1174.2 1103.7C1175.3 1106.8 1176.4 1109.8 1177.5 1112.9C1178.6 1116 1180.3 1120.6 1180.9 1122.2M1122 909C1122.7 910.5 1124.5 915 1125.8 917.9C1127.1 920.9 1128.3 923.9 1129.6 926.9C1130.8 929.9 1132 932.8 1133.1 935.9C1134.2 938.9 1135.3 941.9 1136.3 945C1137.3 948.1 1138.1 951.3 1139 954.4C1139.9 957.5 1140.8 960.7 1141.6 963.8C1142.5 966.9 1143.4 970.1 1144.3 973.2C1145.1 976.4 1145.8 979.5 1146.6 982.7C1147.5 985.8 1148.3 988.9 1149.2 992.1C1150 995.2 1150.8 998.4 1151.7 1001.5C1152.5 1004.6 1153.3 1007.8 1154.2 1010.9C1155 1014 1155.9 1017.2 1156.8 1020.3C1157.7 1023.4 1158.5 1026.6 1159.4 1029.7C1160.2 1032.9 1161.1 1036 1161.9 1039.2C1162.8 1042.3 1163.6 1045.5 1164.5 1048.6C1165.4 1051.7 1166.5 1054.8 1167.5 1057.9C1168.6 1061 1169.8 1064 1170.9 1067.1C1172 1070.1 1173.1 1073.2 1174.3 1076.2C1175.4 1079.3 1176.6 1082.3 1177.7 1085.4C1178.8 1088.5 1180 1091.5 1181.1 1094.6C1182.2 1097.7 1183.3 1100.7 1184.4 1103.8C1185.5 1106.8 1186.7 1109.9 1187.8 1113C1188.9 1116 1190.6 1120.6 1191.1 1122.2M1135.4 909C1135.9 910.5 1137.6 915 1138.8 918C1139.9 921.1 1141.1 924.1 1142.2 927.1C1143.3 930.1 1144.4 933.1 1145.4 936.2C1146.4 939.2 1147.4 942.3 1148.3 945.4C1149.2 948.5 1150 951.7 1150.8 954.8C1151.6 957.9 1152.5 961.1 1153.3 964.2C1154.1 967.3 1155 970.5 1155.8 973.6C1156.6 976.8 1157.2 979.9 1158 983.1C1158.7 986.2 1159.5 989.4 1160.2 992.5C1161 995.7 1161.7 998.8 1162.5 1002C1163.2 1005.1 1163.9 1008.3 1164.7 1011.4C1165.5 1014.5 1166.4 1017.7 1167.2 1020.8C1168 1023.9 1168.8 1027.1 1169.6 1030.2C1170.4 1033.4 1171.3 1036.5 1172.1 1039.6C1172.9 1042.8 1173.6 1046 1174.5 1049.1C1175.4 1052.2 1176.5 1055.2 1177.6 1058.3C1178.7 1061.4 1179.9 1064.4 1181 1067.4C1182.2 1070.4 1183.3 1073.5 1184.4 1076.5C1185.6 1079.6 1186.8 1082.6 1187.9 1085.6C1189.1 1088.6 1190.2 1091.7 1191.3 1094.7C1192.4 1097.8 1193.6 1100.8 1194.7 1103.9C1195.8 1106.9 1196.9 1110 1198 1113C1199.2 1116.1 1200.9 1120.6 1201.4 1122.2M1148.7 909C1149.2 910.5 1150.7 915.1 1151.8 918.1C1152.8 921.2 1153.9 924.2 1154.9 927.3C1155.9 930.3 1156.8 933.4 1157.7 936.5C1158.6 939.6 1159.4 942.7 1160.2 945.8C1161.1 948.9 1161.8 952.1 1162.6 955.2C1163.4 958.3 1164.2 961.5 1165 964.6C1165.8 967.7 1166.6 970.9 1167.3 974C1168 977.2 1168.6 980.3 1169.3 983.5C1169.9 986.7 1170.6 989.8 1171.3 993C1171.9 996.1 1172.6 999.3 1173.3 1002.4C1173.9 1005.6 1174.6 1008.7 1175.3 1011.9C1176 1015 1176.8 1018.2 1177.5 1021.3C1178.3 1024.4 1179.1 1027.6 1179.9 1030.7C1180.6 1033.9 1181.4 1037 1182.2 1040.1C1183 1043.3 1183.6 1046.4 1184.5 1049.5C1185.4 1052.6 1186.5 1055.7 1187.6 1058.7C1188.7 1061.7 1189.9 1064.7 1191.1 1067.7C1192.3 1070.8 1193.4 1073.8 1194.6 1076.8C1195.8 1079.8 1197 1082.8 1198.2 1085.8C1199.3 1088.8 1200.4 1091.9 1201.5 1094.9C1202.7 1097.9 1203.8 1101 1204.9 1104C1206.1 1107 1207.2 1110 1208.3 1113.1C1209.4 1116.1 1211.1 1120.7 1211.7 1122.2M898.9 949C903.1 957.1 915.3 980.4 924.4 997.8C933.5 1015.2 944 1032.6 953.3 1053.3C962.5 1074.1 975.5 1110.7 979.9 1122.2M897.8 975.6C901.5 983.8 911.8 1006.7 920 1024.5C928.1 1042.2 939.6 1065.9 946.6 1082.2C953.6 1098.5 959.6 1115.5 962.2 1122.2M896.7 1002.3C899.4 1008.9 906.5 1026.3 913.3 1042.2C920.2 1058.1 932.2 1084.4 937.7 1097.7C943.3 1111.1 945.1 1118.1 946.6 1122.2M895.5 1033.3C898.1 1040.4 905.5 1060.7 911.1 1075.5C916.6 1090.3 925.9 1114.4 928.9 1122.2M895.5 1064.4C897.8 1070 905.2 1088.1 908.9 1097.7C912.6 1107.4 916.3 1118.1 917.7 1122.2M1175.3 931.2C1179.8 939.7 1193.5 966.7 1202 982.3C1210.5 997.8 1217.1 1010.8 1226.4 1024.5C1235.6 1038.2 1249 1054.1 1257.5 1064.4C1266 1074.8 1274.1 1082.9 1277.5 1086.6M1190.9 964.5C1193.8 970.1 1202.7 983 1208.6 997.8C1214.6 1012.6 1219.7 1032.6 1226.4 1053.3C1233.1 1074.1 1244.9 1110.7 1248.6 1122.2M1228.6 984.5C1231.2 990.4 1237.1 1007.1 1244.2 1020C1251.2 1033 1266.4 1055.2 1270.8 1062.2M1204.2 984.5C1206.4 994.1 1212.3 1023.4 1217.5 1042.2C1222.7 1061.1 1230.8 1084.4 1235.3 1097.7C1239.7 1111.1 1242.7 1118.1 1244.2 1122.2M1286.8 915.9C1288.1 919.6 1291.1 932.2 1294.6 938.2C1298.1 944.2 1302 947.9 1308 951.6C1314 955.3 1322.5 958.1 1330.3 960.5C1338.1 962.9 1347 963.4 1354.8 966C1362.6 968.6 1371.1 972.8 1377.1 976.1C1383 979.5 1388.3 984.4 1390.5 986.1M1282.4 917C1283.5 920.5 1285.9 932.1 1289.1 938.2C1292.2 944.3 1295.5 949.3 1301.3 953.8C1307 958.2 1316.2 961.8 1323.6 964.9C1331 968 1339.2 969.2 1345.9 972.7C1352.6 976.2 1360.7 983.9 1363.7 986.1M1275.7 918.1C1277 922.2 1280.3 935.2 1283.5 942.6C1286.7 950 1290.5 956.8 1294.6 962.7C1298.7 968.7 1305 974.4 1308 978.3C1311 982.2 1311.8 984.8 1312.5 986.1M1266.8 919.2C1267.7 923.5 1269.5 936.9 1272.3 944.9C1275.1 952.9 1279.4 960.2 1283.5 967.1C1287.6 974 1294.7 982.9 1296.9 986.1M1279.7 984.5L1278.6 1033.3M1279.7 993.4L1284.1 1020 1287.5 1004.5 1290.8 1013.4 1350.7 1011.1M1379.6 988.9L1379.6 1122.2M1400.7 988.9L1400.7 1122.2M1379.6 1040L1400.7 1040.5M1379.6 1065.5L1400.7 1066M1379.6 1097.7L1400.7 1098.2M1405.1 935.6L1405.1 947.9M1411.8 939L1412.5 949M1398.5 942.3L1396.3 950.1M1505.3 827.7L1559.3 827.7M1579.3 924.3L1633.3 924.3M2062.7 832.7L2116.7 832.7M1730 939L1730 950M1606.7 961.7L1606.7 972.7M1745 938.3L1765 960M1765 938.3L1745 960M1763.3 923.3L1775 956.7M1378.3 987.3L1378.3 1127.3M1400 987.3L1400 1135.7M1828.3 1010.7C1835.8 1015.7 1860.3 1029 1873.3 1040.7C1886.4 1052.3 1895.6 1065.1 1906.7 1080.7C1917.8 1096.2 1927.2 1118.4 1940 1134C1952.8 1149.6 1969.4 1165.4 1983.3 1174C1997.2 1182.6 2016.7 1183.7 2023.3 1185.7M1476.7 1135.7L1477.7 1155.7M1516.7 1166.7L1565 1147.3M1530 1215.7L1570 1201.3M2148 852.3L2498 868.7M2641.3 880L2831.3 942.7M2254.7 875L2249.7 943.3M2584.7 888.3L2579.7 968.3M2829.7 946.7L2813 1021.7M2831.3 910.5L2831.3 920M2617.3 960L2616.3 986.7M2617.3 960C2618.4 960.4 2622.4 961.3 2624 962.7C2625.6 964.1 2626.7 966.4 2626.7 968.3C2626.7 970.2 2625.6 972.6 2624 974C2622.4 975.4 2618.2 976.2 2617 976.7M2336.3 905L2336.3 924M2326.3 914L2347.3 915M3491 970L3501 993.3M3686 917.2L3686 926.7M3597.7 858.3L3609.3 853.3M3342 1164.7L3458.7 1174.7M3607.7 1266.7L3692.7 1206.7M3664.3 1282.3L3674.3 1283.3M3639.3 1094L3715.3 1150.7"/>
<path fill="none" stroke="#000" stroke-width="1.5" stroke-linejoin="round" stroke-linecap="round" d="M996.6 588.8C995.7 591.8 993.4 599.2 991 606.6C988.6 614 984.9 624.3 982.2 633.2C979.4 642.1 976.2 652.5 974.4 659.9C972.6 667.3 971.7 672.5 971.5 677.6C971.3 682.8 971.9 686.9 973.3 691C974.7 695 977 699.1 979.9 702.1C982.9 705 986.6 707.2 991 708.7C995.5 710.3 1001 711.2 1006.6 711.4C1012.1 711.6 1018.4 710.9 1024.3 710.1C1030.3 709.2 1034.7 708.3 1042.1 706.1C1049.5 703.8 1059.1 700.1 1068.8 696.5C1078.4 692.9 1089.1 689.3 1099.8 684.3C1110.6 679.3 1122 672.8 1133.2 666.5C1144.3 660.2 1155.4 654.3 1166.5 646.6C1177.6 638.8 1188.7 630.6 1199.8 619.9C1210.9 609.2 1223.8 593.6 1233.1 582.2C1242.3 570.7 1247.3 562.4 1255.3 551.1C1263.2 539.8 1276.6 520.5 1280.8 514.4M1008.4 655.4C1008.5 657.3 1008.1 663.4 1009.2 666.5C1010.4 669.7 1012.6 672.6 1015.5 674.3C1018.4 676 1021.8 676.7 1026.6 676.5C1031.4 676.3 1035.8 676 1044.3 673.2C1052.8 670.4 1067.6 664.7 1077.6 659.9C1087.6 655.1 1093.2 651.4 1104.3 644.3C1115.4 637.3 1132 626.6 1144.3 617.7C1156.5 608.8 1166.5 600.7 1177.6 591C1188.7 581.4 1201.6 568.5 1210.9 560C1220.1 551.4 1222.3 547.7 1233.1 540C1243.8 532.2 1268.2 517.8 1275.3 513.3M1351.7 998L1374.4 1026M1374.8 998L1350.9 1026M1350.9 1026L1374.1 1054M1374.4 1026L1350 1054M1350 1054L1373.7 1082M1374.1 1054L1349.1 1082M1349.1 1082L1373.4 1110M1373.7 1082L1348.2 1110M1348.2 1110L1373 1138M1373.4 1110L1347.3 1138M1427.6 1147L1446 1162.4M1369.6 1125.7L1429.6 1176.1M1347.3 1134.5L1413.3 1189.8M1355.9 1169.1L1396.9 1203.5M1374.6 1212.2L1380.6 1217.2M1347.1 1143.5L1361.7 1126.2M1354.9 1166.9L1385.3 1130.6M1364.3 1188.4L1405.7 1139.1M1373.6 1209.9L1426.7 1146.7M1429 1176.7L1447.7 1154.3"/>
<path fill="none" stroke="#000" stroke-width="3" stroke-linejoin="round" stroke-linecap="round" d="M1008.4 659.9C1008.8 656.9 1009.5 648.8 1011 642.1C1012.6 635.5 1015.1 626.6 1017.7 619.9C1020.3 613.2 1022.5 608.4 1026.6 602.1C1030.6 595.9 1036.6 589.9 1042.1 582.2C1047.7 574.4 1054.3 565.1 1059.9 555.5C1065.4 545.9 1071.4 532.9 1075.4 524.4C1079.4 515.9 1082.5 507.8 1083.9 504.4M1015.7 663.7C1016 662.4 1016.9 658.7 1017.5 656.2C1018.1 653.7 1018.7 651.2 1019.4 648.7C1020.1 646.2 1020.9 643.8 1021.7 641.3C1022.5 638.9 1023.4 636.5 1024.3 634.1C1025.2 631.6 1026.1 629.2 1027.1 626.8C1028.1 624.5 1029.3 622.2 1030.5 619.9C1031.7 617.6 1033 615.4 1034.2 613.1C1035.5 610.8 1036.6 608.5 1038 606.3C1039.4 604.1 1041.1 602.2 1042.7 600.1C1044.2 598 1045.7 595.9 1047.2 593.8C1048.8 591.7 1050.3 589.6 1051.8 587.5C1053.3 585.4 1054.7 583.2 1056.1 581C1057.6 578.9 1059 576.7 1060.4 574.5C1061.8 572.3 1063.2 570.1 1064.6 568C1066 565.8 1067.3 563.6 1068.7 561.3C1070 559.1 1071.2 556.8 1072.4 554.5C1073.6 552.2 1074.7 549.9 1075.8 547.5C1076.9 545.2 1078.1 542.9 1079.2 540.5C1080.3 538.2 1081.5 535.9 1082.6 533.5C1083.7 531.2 1084.9 528.9 1086 526.5C1087 524.1 1088 521.7 1089 519.4C1090 517 1091 514.6 1092.1 512.2C1093.1 509.8 1094.6 506.2 1095.1 505M1037.7 675C1040.6 669.5 1048.8 652.8 1055.4 642.1C1062.1 631.5 1070.2 622.5 1077.6 611C1085 599.6 1093.2 586.2 1099.8 573.3C1106.5 560.3 1112.8 544.4 1117.6 533.3C1122.4 522.2 1126.9 511.1 1128.7 506.7M1104.3 645.4C1108 641.9 1118.7 632.7 1126.5 624.3C1134.3 616 1143.1 607 1150.9 595.5C1158.7 584 1165.7 569.6 1173.1 555.5C1180.5 541.4 1191.6 518.5 1195.3 511.1M2344.7 860L2353 668.3 2508 675 2498 867Z"/>
<path fill="none" stroke="#000" stroke-width="0.90" stroke-linejoin="round" stroke-linecap="round" stroke-dasharray="4 3" d="M953.3 607.7C952.4 611.2 948.9 622.3 947.7 628.8C946.6 635.3 946.4 643.6 946.2 646.6"/>
<path fill="none" stroke="#000" stroke-width="2.8" stroke-linejoin="round" stroke-linecap="round" d="M907.8 731.1C909.1 737 912.2 753.3 915.5 766.6C918.9 779.9 922.9 796.2 927.7 811C932.6 825.8 937.5 840.6 944.4 855.4C951.2 870.2 963.6 890.2 968.8 899.8C974 909.5 974.4 910.9 975.5 913.2M967.7 700C967.9 705.6 967.2 721.1 968.8 733.3C970.5 745.5 973.3 759.6 977.7 773.3C982.1 787 988.1 801.8 995.5 815.5C1002.9 829.2 1011.7 842.1 1022.1 855.4C1032.5 868.8 1049.9 885.8 1057.6 895.4C1065.4 905 1066.9 910.2 1068.7 913.2M1031 708.9C1031.4 714.1 1031 729.6 1033.2 740C1035.4 750.3 1038.4 761.4 1044.3 771.1C1050.2 780.7 1059.1 789.9 1068.7 797.7C1078.4 805.5 1092.8 810.3 1102 817.7C1111.3 825.1 1117.2 832.1 1124.3 842.1C1131.3 852.1 1138.3 865.8 1144.2 877.6C1150.2 889.5 1157.2 907.2 1159.8 913.2M1139.8 700C1142.8 702.2 1152.8 709.3 1157.6 713.3C1162.4 717.4 1166.8 722.6 1168.7 724.4M1220.8 811C1222.1 816.6 1225.8 833.2 1228.6 844.3C1231.4 855.4 1234.9 866.2 1237.5 877.6C1240.1 889.1 1243.1 907.2 1244.2 913.2M900 935.6C902.6 939.3 908.5 949.7 915.5 957.9C922.6 966 933.3 974.1 942.2 984.5C951.1 994.9 960.7 1007.4 968.8 1020C977 1032.6 983.6 1046.7 991 1060C998.4 1073.3 1007.7 1089.6 1013.2 1100C1018.8 1110.3 1022.5 1118.5 1024.3 1122.2M975.5 909L1001 942.3M1026.6 984.5C1029.5 990.4 1039.1 1009.7 1044.3 1020C1049.5 1030.4 1055.4 1042.2 1057.6 1046.7M1073.2 1077.8L1090.9 1122.2M1055.4 909L1075.4 940.1M1089.8 980.1C1092.2 986 1100.4 1005.2 1104.3 1015.6C1108.2 1025.9 1111.7 1037.8 1113.2 1042.2M1124.3 1077.8L1139.8 1122.2M1162 909L1168.7 931.2M1178.7 973.4C1180 980.4 1183.7 1002.3 1186.4 1015.6C1189.2 1028.9 1191.6 1041.5 1195.3 1053.3C1199 1065.2 1204.2 1075.2 1208.6 1086.6C1213.1 1098.1 1219.7 1116.2 1222 1122.2M896.7 1024.5C901.3 1031.1 915 1048.2 924.4 1064.4C933.8 1080.7 948.5 1112.5 953.3 1122.2M1246.4 909C1246.8 914.6 1246.8 932.7 1248.6 942.3C1250.5 951.9 1252.7 960.1 1257.5 966.7C1262.3 973.4 1274.1 979.7 1277.5 982.3M1277.5 985.2L1452 988M1279.7 1042.2L1281.9 1082.2M892.2 1155.7L908.9 1186.8M930 1229L937.3 1239.7M981 1162.4L1022.1 1243.5M1037.7 1144.6L1087.6 1239M1088.7 1118L1149.8 1239M1146.5 1118C1150.2 1124.7 1159.4 1142.1 1168.7 1158C1177.9 1173.9 1192.5 1198.9 1202 1213.5C1211.4 1228.1 1221.4 1240.3 1225.3 1245.7M1217.5 1118C1220.5 1124.7 1228.6 1146.1 1235.3 1158C1241.9 1169.8 1250.1 1180.9 1257.5 1189.1C1264.9 1197.2 1272.3 1202 1279.7 1206.8C1287.1 1211.6 1290.8 1215.3 1301.9 1217.9C1313 1220.5 1333.4 1221.3 1346.3 1222.4C1359.3 1223.5 1371.1 1222.7 1379.6 1224.6C1388.1 1226.4 1392.6 1229.9 1397.4 1233.5C1402.2 1237 1406.6 1243.6 1408.5 1245.7M891.1 1173.5C893 1178.3 899.2 1192.4 902.2 1202.4C905.2 1212.4 907.8 1228.3 908.9 1233.5M891.1 1204.6C892.6 1207.6 897.2 1217.4 900 1222.4C902.8 1227.4 906.5 1232.5 907.8 1234.6M1343.3 518.3C1339.4 524.2 1326.4 540.8 1320 553.3C1313.6 565.8 1308.9 578.9 1305 593.3C1301.1 607.8 1298.9 625.6 1296.7 640C1294.4 654.4 1292.8 669.7 1291.7 680C1290.6 690.3 1290.3 698.1 1290 701.7M1293 744.4C1292.5 751.8 1290.6 776.2 1289.7 788.8C1288.8 801.4 1287.8 814.7 1287.5 819.9M2148 857.3L2324.7 864 2511.3 872.3 2574.7 875.3 2641.3 880M2006.6 1245.1C2020.3 1242.2 2061.9 1233.1 2088.9 1227.8C2115.9 1222.5 2142 1217.4 2168.5 1213.2C2195 1209 2221.6 1205.7 2248.1 1202.6C2274.6 1199.5 2305.6 1196.1 2327.7 1194.6C2349.8 1193 2363.5 1192.6 2380.8 1193.3C2398.1 1194 2414.6 1195 2431.3 1199C2448.1 1203 2466.3 1209.2 2481.3 1217.3C2496.3 1225.3 2514.6 1242.3 2521.3 1247.3M3476 1364C3481 1361.8 3496.6 1354.6 3506 1350.7C3515.4 1346.8 3528.2 1342.3 3532.7 1340.7M3566 1329C3571.6 1328.1 3587.7 1324.4 3599.3 1323.3C3611 1322.2 3629.9 1322.5 3636 1322.3"/>
<path fill="none" stroke="#000" stroke-width="0.90" stroke-linejoin="round" stroke-linecap="round" stroke-dasharray="2 3" d="M948.8 708.9C949.1 714.1 950.1 730.3 950.6 740C951.2 749.6 951.9 762.2 952.2 766.6"/>
<path fill="none" stroke="#000" stroke-width="1.6" stroke-linejoin="round" stroke-linecap="round" stroke-dasharray="24 9" d="M902.2 818.8L1159.8 827.7M902.2 845.4L1159.8 855.4M902.2 854.3L1159.8 863.2M902.2 895.4L1166.4 903.2M1222 827.7L1266.4 829.9M1222 855.4L1266.4 858.8M1222 864.3L1266.4 867M1222 903.2L1266.4 905.4M895.5 1024L1164.2 1032.2 1346.3 1037.8M895.5 1052.2L1279.7 1062.2 1346.3 1064.4M895.5 1080L1213.1 1091.1 1346.3 1095.5"/>
<path fill="none" stroke="#000" stroke-width="1.6" stroke-linejoin="round" stroke-linecap="round" d="M1184.5 717.8L1197.1 730.4M1166.4 729.4L1219.7 782.7M1161.3 754L1219.6 812.3M1163.5 785.9L1218.9 841.4M1165.6 817.7L1219.4 871.5M1162.1 843.9L1216.8 898.6M1162 873.5L1214.4 925.9M1166.2 907.4L1235 976.2M1208.5 979.4L1219 989.9M1161 748.2L1190.9 718.3M1162.4 776.5L1200.9 737.9M1165.5 803.1L1211.5 757.1M1163.2 835L1219.7 778.5M1162 866L1219.7 808.3M1164.2 893.4L1219 838.7M1170.4 916.9L1219.3 868.1M1180.6 936.5L1216.5 900.6M1191.4 955.4L1214.6 932.2M1203.5 972.9L1222.8 953.7M1216.5 989.7L1242.8 963.4M1308.3 590C1308.1 599.4 1306.7 628.3 1306.7 646.7C1306.7 665 1309.1 691.1 1308.3 700C1307.5 708.9 1303.2 688.9 1301.9 700C1300.6 711.1 1301.2 745.9 1300.8 766.6C1300.4 787.3 1299.9 814.7 1299.7 824.3M1745 938.3L1765 938.3 1765 960 1745 960ZM1461.7 987.3L1461.7 1135.7 1400 1135.7M1378.3 1065.7L1473.3 1065.7M2203 556L2079.7 642.3 2076.3 645 2084.7 661.7M2641.3 880C2648 879.2 2666.3 878.9 2681.3 875C2696.3 871.1 2716.3 865.3 2731.3 856.7C2746.3 848.1 2756.3 835.3 2771.3 823.3C2786.3 811.4 2808 795.6 2821.3 785C2834.7 774.4 2846.3 764.2 2851.3 760M2849.7 851.7L2843 870 2837.3 903.3M2854.7 855L2846.3 876.7 2843 903.3M2913 810L2849.7 852.7M2541.3 1187.3L2521.3 1247.3 2541.3 1245.7ZM3322.7 760L3337.7 776.7M3354.3 778.3L3422.7 730M3717.7 906.7L3692.7 936.7 3602.7 1010 3592.7 1060M3696 923.3L3717.7 906.7M3122.7 660L3207.7 760M3022 1064L3021 1074 3006 1174 3002.7 1194M3230 1094.7L3139.3 1194 3066 1287.3 3039.4 1311.7 3018.9 1319.4 2995.8 1322M3236.7 1100L3144.3 1198 3071 1290.7 2998.4 1370.7M3101 1343.3L3397.7 1370.7M3094.3 1352.3L3397.7 1379"/>
<path fill="none" stroke="#000" stroke-width="2.4" stroke-linejoin="round" stroke-linecap="round" d="M1266.8 819L1275.7 819.6 1271.2 918.1 1263.4 919.2ZM1293.5 913.7C1294.1 915.6 1294.9 920.3 1296.9 924.8C1299 929.2 1301.3 935.6 1305.8 940.4C1310.2 945.2 1316.2 950.4 1323.6 953.8C1331 957.1 1339.9 958.5 1350.3 960.5C1360.7 962.5 1376.7 964 1386 966C1395.3 968 1400.1 969.2 1406.1 972.7C1412 976.2 1419.1 984.8 1421.7 987.2M1320 701.7L1418.3 706.7 1418.3 736.7 1438.3 740 1436.7 828.3 1315 826.7ZM1890 738.3L1995 739.3 1993.3 768.3 2008.3 769.3 2006 853.3 1888.3 850ZM1763 538.3L1759.7 653.3 1884.7 655.7 1888.7 540M1896.3 586L1976.3 586 1974.7 671.7 2008 672.7 2008 730 1893 728.3ZM2224.7 666.7L2224.7 680 2216.3 855M2343 1054L2339.7 1130.7 2344.7 1144 2349.7 1147.3M3566 805L3611 841.7M3091 1379L3092 1355.7 3129.3 1359 3130 1372.3M3207.7 1377.3L3209.3 1369 3279.3 1377.3"/>
<path fill="none" stroke="#000" stroke-width="1.4" stroke-linejoin="round" stroke-linecap="round" d="M1275.7 820L1299 825.6 1275.7 829M1503.3 580.7L1636.7 529.3M1476.7 1004L1531.7 1032.3 1481.7 1041.3M1475 1102.3L1540 1094 1461.7 1134M1480 1100.7L1536.7 1094.7M2591.3 981.7C2595.2 982.5 2599.7 983.6 2614.7 986.7C2629.7 989.7 2659.1 995 2681.3 1000C2703.6 1005 2721.3 1010.8 2748 1016.7C2774.7 1022.5 2798.2 1029.7 2841.3 1035C2884.4 1040.3 2979.1 1046.1 3006.7 1048.3M2328 956.7L2349 960 2348 1074M2518 1257.3L2981.3 1333.3M3289.3 855L3302.7 845M3302.7 845L3372.7 930M3359.3 941.7L3372.7 930M3294 860.8L3307.3 850.7M3298.7 866.6L3312 856.3M3303.3 872.3L3316.7 862M3308 878.1L3321.3 867.7M3312.7 883.9L3326 873.3M3317.3 889.7L3330.7 879M3322 895.4L3335.3 884.7M3326.7 901.2L3340 890.3M3331.3 907L3344.7 896M3336 912.8L3349.3 901.7M3340.7 918.6L3354 907.3M3345.3 924.3L3358.7 913M3350 930.1L3363.3 918.7M3354.7 935.9L3368 924.3M3277.7 760L3339.3 831.7 3436 953.3M3006 961.7C3028.2 963.3 3094.9 969.7 3139.3 971.7C3183.8 973.6 3236.6 974.2 3272.7 973.3C3308.8 972.5 3337.1 968.6 3356 966.7C3374.9 964.7 3381 962.5 3386 961.7M3006 1048.7C3018.3 1049.3 3052.2 1050.8 3080 1052.7C3107.8 1054.6 3135 1058.5 3172.7 1060C3210.3 1061.5 3271 1061.9 3306 1061.7C3341 1061.4 3369.9 1058.9 3382.7 1058.3M3546.7 1054L3557.7 1061 3546 1064ZM3222.7 1074L3226 1087.3 3236 1097.3M3353.3 1082L3320 1096.7 3305.3 1110.7 3088 1358 3073 1370.7M3352.7 1081.3L3591 1088M3576.4 1066.9L3656.7 1147.1M3589.8 1051.3L3672.3 1133.7M3656.7 1147.1L3672.3 1133.7M3576.4 1066.9L3589.8 1051.3M3580.4 1070.9L3593.9 1055.4M3584.4 1074.9L3598.1 1059.5M3588.4 1078.9L3602.2 1063.7M3592.5 1082.9L3606.3 1067.8M3596.5 1087L3610.4 1071.9M3600.5 1091L3614.6 1076M3604.5 1095L3618.7 1080.1M3608.5 1099L3622.8 1084.3M3612.5 1103L3626.9 1088.4M3616.6 1107L3631.1 1092.5M3620.6 1111L3635.2 1096.6M3624.6 1115L3639.3 1100.7M3628.6 1119L3643.4 1104.9M3632.6 1123L3647.6 1109M3636.6 1127L3651.7 1113.1M3640.6 1131.1L3655.8 1117.2M3644.7 1135.1L3659.9 1121.3M3648.7 1139.1L3664.1 1125.5M3652.7 1143.1L3668.2 1129.6"/>
<path fill="none" stroke="#000" stroke-width="1.2" stroke-linejoin="round" stroke-linecap="round" stroke-dasharray="18 5 3 5" d="M1220.8 981.2L1255.3 987.8 1326.3 992.9"/>
<path fill="none" stroke="#000" stroke-width="1.6" stroke-linejoin="round" stroke-linecap="round" stroke-dasharray="10 6" d="M1278.6 1082.2L1278.6 1122.2"/>
<path fill="none" stroke="#000" stroke-width="1.5" stroke-linejoin="round" stroke-linecap="round" stroke-dasharray="30 8" d="M1404 1036.7L1452 1037.3M1404 1042.2L1452 1042.9M1404 1062.2L1452 1062.9M1404 1066.7L1452 1067.3M1404 1097.7L1452 1098.4M1290 1037.3L1351.7 1039M1290 1065.7L1351.7 1064M1290 1095.7L1346.7 1094"/>
<path fill="none" stroke="#000" stroke-width="1.1" stroke-linejoin="round" stroke-linecap="round" d="M906 1148.2C906.3 1148.9 907.4 1150.9 908 1152.2C908.7 1153.6 909.4 1154.9 910.1 1156.3C910.8 1157.6 911.5 1158.9 912.2 1160.3C912.9 1161.6 913.5 1163 914.2 1164.3C914.9 1165.7 915.6 1167 916.3 1168.4C917 1169.7 917.7 1171 918.4 1172.4C919.1 1173.7 919.7 1175.1 920.4 1176.4C921.1 1177.8 921.8 1179.1 922.5 1180.4C923.2 1181.8 923.9 1183.1 924.6 1184.5C925.3 1185.8 925.9 1187.2 926.6 1188.5C927.3 1189.9 928 1191.2 928.6 1192.6C929.3 1193.9 930 1195.3 930.7 1196.6C931.3 1198 932 1199.3 932.7 1200.7C933.4 1202 934.1 1203.4 934.7 1204.7C935.4 1206.1 936.1 1207.4 936.8 1208.8C937.4 1210.1 938.1 1211.5 938.8 1212.8C939.5 1214.2 940.1 1215.5 940.8 1216.9C941.5 1218.2 942.2 1219.6 942.9 1220.9C943.5 1222.3 944.2 1223.6 944.9 1225C945.6 1226.3 946.2 1227.7 947 1229C947.7 1230.3 948.6 1231.5 949.4 1232.8C950.2 1234.1 951 1235.4 951.8 1236.6C952.6 1237.9 953.8 1239.8 954.3 1240.4M919.7 1140.6C920.1 1141.4 921.2 1143.6 921.9 1145.1C922.6 1146.5 923.4 1148 924.1 1149.5C924.8 1150.9 925.5 1152.4 926.3 1153.9C927 1155.3 927.7 1156.8 928.4 1158.3C929.2 1159.7 929.9 1161.2 930.6 1162.7C931.3 1164.2 932 1165.6 932.8 1167.1C933.5 1168.6 934.2 1170 934.9 1171.5C935.7 1173 936.4 1174.4 937.1 1175.9C937.8 1177.4 938.6 1178.8 939.4 1180.3C940.1 1181.7 940.8 1183.2 941.6 1184.7C942.3 1186.1 943 1187.6 943.8 1189.1C944.5 1190.5 945.2 1192 946 1193.4C946.7 1194.9 947.5 1196.4 948.2 1197.8C948.9 1199.3 949.7 1200.8 950.4 1202.2C951.1 1203.7 951.9 1205.2 952.6 1206.6C953.3 1208.1 954.1 1209.5 954.8 1211C955.6 1212.5 956.3 1213.9 957 1215.4C957.8 1216.9 958.5 1218.3 959.2 1219.8C960 1221.3 960.7 1222.7 961.5 1224.2C962.2 1225.6 962.9 1227.1 963.7 1228.5C964.5 1230 965.4 1231.4 966.2 1232.8C967 1234.2 967.9 1235.6 968.7 1237C969.5 1238.4 970.8 1240.5 971.2 1241.2M933.5 1133.1C933.9 1133.9 935 1136.3 935.8 1137.9C936.6 1139.5 937.3 1141.1 938.1 1142.7C938.8 1144.3 939.6 1145.9 940.3 1147.4C941.1 1149 941.9 1150.6 942.6 1152.2C943.4 1153.8 944.1 1155.4 944.9 1157C945.7 1158.6 946.4 1160.2 947.2 1161.8C947.9 1163.4 948.7 1165 949.5 1166.6C950.2 1168.2 951 1169.8 951.7 1171.4C952.5 1172.9 953.3 1174.5 954.1 1176.1C954.9 1177.7 955.7 1179.2 956.5 1180.8C957.3 1182.4 958.1 1184 958.9 1185.5C959.7 1187.1 960.5 1188.7 961.3 1190.3C962.1 1191.8 962.9 1193.4 963.7 1195C964.5 1196.6 965.3 1198.2 966.1 1199.7C966.9 1201.3 967.7 1202.9 968.5 1204.5C969.3 1206 970.1 1207.6 970.9 1209.2C971.6 1210.8 972.4 1212.3 973.2 1213.9C974 1215.5 974.8 1217.1 975.6 1218.7C976.4 1220.2 977.2 1221.8 978 1223.4C978.8 1225 979.6 1226.6 980.4 1228.1C981.3 1229.7 982.1 1231.2 983 1232.7C983.9 1234.3 984.7 1235.8 985.6 1237.3C986.5 1238.9 987.8 1241.2 988.2 1241.9M947.3 1125.5C947.7 1126.4 948.9 1129 949.7 1130.7C950.5 1132.4 951.3 1134.1 952 1135.9C952.8 1137.6 953.6 1139.3 954.4 1141C955.2 1142.7 956 1144.5 956.8 1146.2C957.6 1147.9 958.4 1149.6 959.2 1151.3C960 1153.1 960.8 1154.8 961.6 1156.5C962.4 1158.2 963.2 1159.9 964 1161.7C964.8 1163.4 965.5 1165.1 966.4 1166.8C967.2 1168.5 968.1 1170.2 968.9 1171.9C969.8 1173.6 970.6 1175.3 971.5 1177C972.3 1178.6 973.2 1180.3 974.1 1182C974.9 1183.7 975.8 1185.4 976.6 1187.1C977.5 1188.8 978.3 1190.5 979.2 1192.2C980 1193.9 980.9 1195.5 981.7 1197.2C982.6 1198.9 983.5 1200.6 984.3 1202.3C985.2 1204 986 1205.7 986.9 1207.4C987.7 1209.1 988.6 1210.8 989.4 1212.5C990.3 1214.1 991.2 1215.8 992 1217.5C992.9 1219.2 993.7 1220.9 994.6 1222.6C995.4 1224.3 996.3 1226 997.2 1227.7C998 1229.3 998.9 1231 999.8 1232.7C1000.7 1234.3 1001.6 1236 1002.5 1237.7C1003.4 1239.4 1004.7 1241.9 1005.1 1242.7M973.7 1118C974.1 1118.9 975.4 1121.7 976.2 1123.5C977.1 1125.3 977.9 1127.1 978.8 1129C979.6 1130.8 980.4 1132.6 981.3 1134.5C982.1 1136.3 983 1138.1 983.8 1140C984.6 1141.8 985.5 1143.6 986.3 1145.4C987.2 1147.3 988 1149.1 988.9 1150.9C989.7 1152.7 990.6 1154.6 991.4 1156.4C992.3 1158.2 993.1 1160.1 994 1161.9C994.8 1163.7 995.8 1165.5 996.7 1167.3C997.6 1169.1 998.5 1170.8 999.5 1172.6C1000.4 1174.4 1001.3 1176.2 1002.2 1178C1003.1 1179.8 1004 1181.6 1005 1183.4C1005.9 1185.2 1006.8 1187 1007.7 1188.8C1008.6 1190.6 1009.5 1192.4 1010.5 1194.2C1011.4 1195.9 1012.3 1197.7 1013.2 1199.5C1014.1 1201.3 1015 1203.1 1016 1204.9C1016.9 1206.7 1017.8 1208.5 1018.7 1210.3C1019.6 1212.1 1020.5 1213.9 1021.5 1215.7C1022.4 1217.5 1023.3 1219.3 1024.2 1221.1C1025.1 1222.8 1026 1224.6 1027 1226.4C1027.9 1228.2 1028.8 1230 1029.7 1231.8C1030.6 1233.6 1031.5 1235.4 1032.5 1237.2C1033.4 1239 1034.8 1241.7 1035.2 1242.6M986.4 1118C986.8 1118.9 988.1 1121.6 988.9 1123.4C989.8 1125.3 990.6 1127.1 991.5 1128.9C992.3 1130.7 993.2 1132.5 994 1134.3C994.9 1136.1 995.7 1138 996.6 1139.8C997.4 1141.6 998.3 1143.4 999.1 1145.2C1000 1147 1000.9 1148.8 1001.7 1150.6C1002.6 1152.4 1003.5 1154.3 1004.4 1156.1C1005.2 1157.9 1006.1 1159.7 1007 1161.5C1007.9 1163.3 1008.8 1165 1009.7 1166.8C1010.6 1168.6 1011.5 1170.4 1012.5 1172.2C1013.4 1174 1014.3 1175.7 1015.2 1177.5C1016.1 1179.3 1017.1 1181.1 1018 1182.9C1018.9 1184.7 1019.8 1186.4 1020.7 1188.2C1021.7 1190 1022.6 1191.8 1023.5 1193.6C1024.4 1195.3 1025.3 1197.1 1026.3 1198.9C1027.2 1200.7 1028.1 1202.5 1029 1204.3C1029.9 1206 1030.9 1207.8 1031.8 1209.6C1032.7 1211.4 1033.6 1213.2 1034.5 1214.9C1035.4 1216.7 1036.4 1218.5 1037.3 1220.3C1038.2 1222.1 1039.1 1223.9 1040 1225.6C1041 1227.4 1041.9 1229.2 1042.8 1231C1043.7 1232.8 1044.6 1234.6 1045.6 1236.3C1046.5 1238.1 1047.9 1240.8 1048.3 1241.7M999 1118C999.5 1118.9 1000.7 1121.6 1001.6 1123.4C1002.5 1125.2 1003.3 1127 1004.2 1128.8C1005.1 1130.6 1005.9 1132.4 1006.8 1134.2C1007.6 1136 1008.5 1137.8 1009.4 1139.6C1010.2 1141.4 1011.1 1143.2 1012 1145C1012.8 1146.8 1013.7 1148.6 1014.6 1150.4C1015.5 1152.2 1016.4 1153.9 1017.3 1155.7C1018.2 1157.5 1019 1159.3 1020 1161.1C1020.9 1162.9 1021.8 1164.6 1022.7 1166.4C1023.6 1168.2 1024.6 1169.9 1025.5 1171.7C1026.4 1173.5 1027.3 1175.3 1028.2 1177C1029.2 1178.8 1030.1 1180.6 1031 1182.3C1031.9 1184.1 1032.9 1185.9 1033.8 1187.7C1034.7 1189.4 1035.6 1191.2 1036.5 1193C1037.5 1194.7 1038.4 1196.5 1039.3 1198.3C1040.2 1200.1 1041.1 1201.8 1042.1 1203.6C1043 1205.4 1043.9 1207.1 1044.8 1208.9C1045.8 1210.7 1046.7 1212.5 1047.6 1214.2C1048.5 1216 1049.4 1217.8 1050.4 1219.5C1051.3 1221.3 1052.2 1223.1 1053.1 1224.9C1054 1226.6 1055 1228.4 1055.9 1230.2C1056.8 1231.9 1057.7 1233.7 1058.7 1235.5C1059.6 1237.3 1061 1239.9 1061.4 1240.8M1011.7 1118C1012.1 1118.9 1013.4 1121.6 1014.3 1123.4C1015.2 1125.1 1016 1126.9 1016.9 1128.7C1017.8 1130.5 1018.7 1132.3 1019.5 1134.1C1020.4 1135.9 1021.3 1137.6 1022.2 1139.4C1023 1141.2 1023.9 1143 1024.8 1144.8C1025.7 1146.6 1026.6 1148.3 1027.5 1150.1C1028.4 1151.9 1029.3 1153.6 1030.2 1155.4C1031.1 1157.2 1032 1158.9 1032.9 1160.7C1033.9 1162.5 1034.8 1164.2 1035.7 1166C1036.6 1167.7 1037.6 1169.5 1038.5 1171.3C1039.4 1173 1040.3 1174.8 1041.3 1176.5C1042.2 1178.3 1043.1 1180.1 1044 1181.8C1045 1183.6 1045.9 1185.3 1046.8 1187.1C1047.7 1188.9 1048.7 1190.6 1049.6 1192.4C1050.5 1194.1 1051.4 1195.9 1052.3 1197.7C1053.3 1199.4 1054.2 1201.2 1055.1 1202.9C1056 1204.7 1057 1206.5 1057.9 1208.2C1058.8 1210 1059.7 1211.7 1060.7 1213.5C1061.6 1215.3 1062.5 1217 1063.4 1218.8C1064.4 1220.5 1065.3 1222.3 1066.2 1224.1C1067.1 1225.8 1068 1227.6 1069 1229.3C1069.9 1231.1 1070.8 1232.9 1071.7 1234.6C1072.7 1236.4 1074.1 1239 1074.5 1239.9M1037.2 1118C1037.7 1118.9 1039 1121.5 1039.9 1123.3C1040.8 1125.1 1041.6 1126.8 1042.5 1128.6C1043.4 1130.4 1044.3 1132.1 1045.2 1133.9C1046.1 1135.7 1046.9 1137.4 1047.8 1139.2C1048.7 1141 1049.6 1142.7 1050.5 1144.5C1051.4 1146.3 1052.3 1148 1053.2 1149.8C1054.2 1151.5 1055.1 1153.3 1056 1155C1056.9 1156.8 1057.8 1158.5 1058.7 1160.3C1059.7 1162 1060.6 1163.8 1061.5 1165.5C1062.4 1167.3 1063.3 1169 1064.3 1170.8C1065.2 1172.5 1066.1 1174.3 1067 1176C1067.9 1177.8 1068.8 1179.5 1069.8 1181.3C1070.7 1183 1071.6 1184.8 1072.5 1186.5C1073.4 1188.3 1074.4 1190 1075.3 1191.8C1076.2 1193.5 1077.1 1195.3 1078 1197C1078.9 1198.8 1079.9 1200.5 1080.8 1202.3C1081.7 1204 1082.6 1205.8 1083.5 1207.5C1084.4 1209.3 1085.4 1211 1086.3 1212.8C1087.2 1214.5 1088.1 1216.3 1089 1218C1090 1219.8 1090.9 1221.5 1091.8 1223.3C1092.7 1225 1093.6 1226.8 1094.5 1228.5C1095.5 1230.3 1096.4 1232 1097.3 1233.8C1098.2 1235.5 1099.6 1238.1 1100.1 1239M1050.1 1118C1050.5 1118.9 1051.9 1121.5 1052.7 1123.3C1053.6 1125.1 1054.5 1126.8 1055.4 1128.6C1056.3 1130.3 1057.2 1132.1 1058.1 1133.9C1058.9 1135.6 1059.8 1137.4 1060.7 1139.2C1061.6 1140.9 1062.5 1142.7 1063.4 1144.5C1064.3 1146.2 1065.2 1148 1066.1 1149.7C1067 1151.5 1067.9 1153.2 1068.8 1155C1069.7 1156.7 1070.6 1158.5 1071.6 1160.2C1072.5 1162 1073.4 1163.7 1074.3 1165.5C1075.2 1167.2 1076.1 1169 1077 1170.7C1077.9 1172.5 1078.8 1174.2 1079.7 1176C1080.6 1177.7 1081.6 1179.5 1082.5 1181.2C1083.4 1183 1084.3 1184.7 1085.2 1186.5C1086.1 1188.2 1087 1190 1087.9 1191.7C1088.8 1193.5 1089.7 1195.2 1090.7 1197C1091.6 1198.7 1092.5 1200.5 1093.4 1202.2C1094.3 1204 1095.2 1205.7 1096.1 1207.5C1097 1209.2 1097.9 1211 1098.8 1212.8C1099.8 1214.5 1100.7 1216.3 1101.6 1218C1102.5 1219.8 1103.4 1221.5 1104.3 1223.3C1105.2 1225 1106.1 1226.8 1107 1228.5C1107.9 1230.3 1108.8 1232 1109.8 1233.8C1110.7 1235.5 1112 1238.1 1112.5 1239M1063 1118C1063.4 1118.9 1064.7 1121.5 1065.6 1123.3C1066.5 1125 1067.4 1126.8 1068.3 1128.6C1069.2 1130.3 1070 1132.1 1070.9 1133.8C1071.8 1135.6 1072.7 1137.4 1073.6 1139.1C1074.5 1140.9 1075.4 1142.7 1076.2 1144.4C1077.1 1146.2 1078 1147.9 1078.9 1149.7C1079.8 1151.4 1080.8 1153.2 1081.7 1154.9C1082.6 1156.7 1083.5 1158.4 1084.4 1160.2C1085.3 1161.9 1086.2 1163.7 1087.1 1165.4C1088 1167.2 1088.9 1168.9 1089.8 1170.7C1090.7 1172.4 1091.6 1174.2 1092.5 1175.9C1093.4 1177.7 1094.3 1179.4 1095.2 1181.2C1096.1 1183 1097 1184.7 1097.9 1186.5C1098.8 1188.2 1099.7 1190 1100.6 1191.7C1101.5 1193.5 1102.4 1195.2 1103.3 1197C1104.2 1198.7 1105.1 1200.5 1106 1202.2C1106.9 1204 1107.8 1205.7 1108.7 1207.5C1109.6 1209.2 1110.5 1211 1111.4 1212.7C1112.3 1214.5 1113.2 1216.2 1114.1 1218C1115 1219.7 1115.9 1221.5 1116.8 1223.2C1117.7 1225 1118.6 1226.8 1119.5 1228.5C1120.4 1230.3 1121.3 1232 1122.2 1233.8C1123.1 1235.5 1124.5 1238.1 1124.9 1239M1075.8 1118C1076.3 1118.9 1077.6 1121.5 1078.5 1123.3C1079.4 1125 1080.3 1126.8 1081.2 1128.5C1082 1130.3 1082.9 1132.1 1083.8 1133.8C1084.7 1135.6 1085.6 1137.3 1086.5 1139.1C1087.4 1140.8 1088.2 1142.6 1089.1 1144.4C1090 1146.1 1090.9 1147.9 1091.8 1149.6C1092.7 1151.4 1093.6 1153.1 1094.5 1154.9C1095.4 1156.6 1096.3 1158.4 1097.2 1160.1C1098.1 1161.9 1098.9 1163.6 1099.8 1165.4C1100.7 1167.1 1101.6 1168.9 1102.5 1170.7C1103.4 1172.4 1104.3 1174.2 1105.2 1175.9C1106.1 1177.7 1107 1179.4 1107.9 1181.2C1108.8 1182.9 1109.7 1184.7 1110.6 1186.4C1111.5 1188.2 1112.3 1189.9 1113.2 1191.7C1114.1 1193.4 1115 1195.2 1115.9 1196.9C1116.8 1198.7 1117.7 1200.5 1118.6 1202.2C1119.5 1204 1120.4 1205.7 1121.3 1207.5C1122.2 1209.2 1123.1 1211 1124 1212.7C1124.9 1214.5 1125.7 1216.2 1126.6 1218C1127.5 1219.7 1128.4 1221.5 1129.3 1223.2C1130.2 1225 1131.1 1226.7 1132 1228.5C1132.9 1230.3 1133.8 1232 1134.7 1233.8C1135.6 1235.5 1136.9 1238.1 1137.4 1239M1100.3 1118C1100.7 1118.9 1102.1 1121.6 1103 1123.4C1104 1125.1 1104.9 1126.9 1105.8 1128.7C1106.7 1130.5 1107.6 1132.3 1108.5 1134.1C1109.5 1135.8 1110.4 1137.6 1111.3 1139.4C1112.2 1141.2 1113.1 1143 1114.1 1144.8C1115 1146.5 1115.9 1148.3 1116.8 1150.1C1117.7 1151.9 1118.7 1153.7 1119.6 1155.5C1120.5 1157.2 1121.4 1159 1122.4 1160.8C1123.3 1162.6 1124.2 1164.3 1125.2 1166.1C1126.1 1167.9 1127 1169.7 1128 1171.4C1128.9 1173.2 1129.8 1175 1130.8 1176.8C1131.7 1178.6 1132.6 1180.3 1133.6 1182.1C1134.5 1183.9 1135.4 1185.7 1136.4 1187.4C1137.3 1189.2 1138.2 1191 1139.2 1192.8C1140.1 1194.5 1141 1196.3 1141.9 1198.1C1142.9 1199.9 1143.8 1201.6 1144.7 1203.4C1145.7 1205.2 1146.6 1207 1147.5 1208.7C1148.5 1210.5 1149.5 1212.3 1150.4 1214C1151.4 1215.8 1152.4 1217.5 1153.3 1219.3C1154.3 1221 1155.3 1222.8 1156.2 1224.5C1157.2 1226.3 1158.1 1228.1 1159.1 1229.8C1160.1 1231.6 1161 1233.3 1162 1235.1C1163 1236.8 1164.4 1239.5 1164.9 1240.3M1111.8 1118C1112.3 1118.9 1113.7 1121.6 1114.7 1123.4C1115.6 1125.3 1116.6 1127.1 1117.5 1128.9C1118.5 1130.7 1119.5 1132.5 1120.4 1134.3C1121.4 1136.1 1122.3 1137.9 1123.3 1139.8C1124.2 1141.6 1125.2 1143.4 1126.1 1145.2C1127.1 1147 1128 1148.8 1129 1150.6C1129.9 1152.5 1130.9 1154.3 1131.9 1156.1C1132.8 1157.9 1133.8 1159.7 1134.8 1161.5C1135.8 1163.3 1136.7 1165.1 1137.7 1166.9C1138.7 1168.7 1139.7 1170.5 1140.7 1172.3C1141.6 1174.1 1142.6 1175.9 1143.6 1177.7C1144.6 1179.5 1145.6 1181.3 1146.5 1183.1C1147.5 1184.9 1148.5 1186.7 1149.5 1188.5C1150.5 1190.3 1151.4 1192.1 1152.4 1193.9C1153.4 1195.7 1154.4 1197.5 1155.3 1199.3C1156.3 1201.1 1157.3 1202.9 1158.3 1204.7C1159.3 1206.5 1160.2 1208.3 1161.2 1210C1162.3 1211.8 1163.3 1213.6 1164.4 1215.3C1165.4 1217.1 1166.4 1218.8 1167.5 1220.6C1168.5 1222.3 1169.6 1224.1 1170.6 1225.9C1171.7 1227.6 1172.7 1229.4 1173.7 1231.1C1174.8 1232.9 1175.8 1234.7 1176.9 1236.4C1177.9 1238.2 1179.5 1240.8 1180 1241.7M1123.4 1118C1123.9 1118.9 1125.3 1121.7 1126.3 1123.5C1127.3 1125.4 1128.3 1127.2 1129.3 1129.1C1130.3 1130.9 1131.3 1132.7 1132.3 1134.6C1133.2 1136.4 1134.2 1138.3 1135.2 1140.1C1136.2 1142 1137.2 1143.8 1138.2 1145.7C1139.2 1147.5 1140.2 1149.3 1141.2 1151.2C1142.1 1153 1143.1 1154.9 1144.1 1156.7C1145.1 1158.5 1146.2 1160.4 1147.2 1162.2C1148.2 1164 1149.3 1165.8 1150.3 1167.6C1151.3 1169.5 1152.3 1171.3 1153.4 1173.1C1154.4 1174.9 1155.4 1176.7 1156.4 1178.6C1157.5 1180.4 1158.5 1182.2 1159.5 1184C1160.5 1185.9 1161.6 1187.7 1162.6 1189.5C1163.6 1191.3 1164.6 1193.1 1165.7 1195C1166.7 1196.8 1167.7 1198.6 1168.7 1200.4C1169.8 1202.3 1170.8 1204.1 1171.8 1205.9C1172.9 1207.7 1173.8 1209.6 1174.9 1211.3C1176 1213.1 1177.2 1214.9 1178.3 1216.6C1179.4 1218.4 1180.5 1220.1 1181.6 1221.9C1182.8 1223.7 1183.9 1225.4 1185 1227.2C1186.1 1228.9 1187.2 1230.7 1188.4 1232.5C1189.5 1234.2 1190.6 1236 1191.7 1237.7C1192.8 1239.5 1194.5 1242.1 1195.1 1243M1134.9 1118C1135.4 1118.9 1137 1121.7 1138 1123.6C1139 1125.5 1140 1127.4 1141 1129.2C1142.1 1131.1 1143.1 1133 1144.1 1134.9C1145.1 1136.7 1146.2 1138.6 1147.2 1140.5C1148.2 1142.4 1149.2 1144.2 1150.3 1146.1C1151.3 1148 1152.3 1149.8 1153.3 1151.7C1154.3 1153.6 1155.3 1155.5 1156.4 1157.3C1157.4 1159.2 1158.5 1161 1159.6 1162.9C1160.7 1164.7 1161.8 1166.6 1162.8 1168.4C1163.9 1170.2 1165 1172.1 1166 1173.9C1167.1 1175.8 1168.2 1177.6 1169.3 1179.5C1170.3 1181.3 1171.4 1183.2 1172.5 1185C1173.6 1186.8 1174.6 1188.7 1175.7 1190.5C1176.8 1192.4 1177.9 1194.2 1178.9 1196.1C1180 1197.9 1181.1 1199.8 1182.1 1201.6C1183.2 1203.4 1184.3 1205.3 1185.4 1207.1C1186.4 1209 1187.5 1210.8 1188.6 1212.6C1189.8 1214.4 1191 1216.2 1192.2 1217.9C1193.4 1219.7 1194.6 1221.4 1195.8 1223.2C1197 1225 1198.2 1226.7 1199.4 1228.5C1200.6 1230.3 1201.8 1232 1203 1233.8C1204.2 1235.5 1205.4 1237.3 1206.6 1239.1C1207.8 1240.8 1209.6 1243.5 1210.2 1244.3M1160.7 1118C1161.2 1118.9 1162.7 1121.8 1163.7 1123.7C1164.7 1125.6 1165.7 1127.5 1166.7 1129.4C1167.8 1131.3 1168.8 1133.2 1169.8 1135.1C1170.8 1137 1171.8 1138.9 1172.8 1140.8C1173.8 1142.7 1174.8 1144.6 1175.9 1146.4C1176.9 1148.3 1177.9 1150.2 1178.9 1152.1C1179.9 1154 1180.9 1156 1181.9 1157.8C1183 1159.7 1184.2 1161.5 1185.3 1163.3C1186.4 1165.2 1187.6 1167 1188.7 1168.8C1189.8 1170.6 1191 1172.5 1192.1 1174.3C1193.2 1176.1 1194.4 1177.9 1195.5 1179.8C1196.6 1181.6 1197.8 1183.4 1198.9 1185.2C1200 1187.1 1201.2 1188.9 1202.3 1190.7C1203.4 1192.5 1204.6 1194.4 1205.7 1196.2C1206.9 1198 1208 1199.8 1209.2 1201.7C1210.3 1203.5 1211.4 1205.3 1212.6 1207.1C1213.7 1208.9 1214.8 1210.8 1216 1212.6C1217.2 1214.3 1218.6 1216 1219.8 1217.8C1221.1 1219.5 1222.4 1221.3 1223.6 1223C1224.8 1224.8 1225.9 1226.6 1227 1228.4C1228.2 1230.2 1229.4 1232 1230.5 1233.8C1231.7 1235.6 1232.9 1237.4 1234 1239.2C1235.2 1241 1236.9 1243.7 1237.5 1244.6M1174.9 1118C1175.4 1118.9 1176.8 1121.8 1177.8 1123.7C1178.7 1125.6 1179.7 1127.5 1180.7 1129.3C1181.6 1131.2 1182.6 1133.1 1183.6 1135C1184.6 1136.9 1185.5 1138.8 1186.5 1140.7C1187.5 1142.6 1188.4 1144.5 1189.4 1146.4C1190.4 1148.2 1191.3 1150.1 1192.3 1152C1193.3 1153.9 1194.1 1155.8 1195.2 1157.7C1196.2 1159.5 1197.4 1161.3 1198.6 1163.1C1199.7 1164.9 1200.9 1166.7 1202 1168.4C1203.2 1170.2 1204.3 1172 1205.5 1173.8C1206.6 1175.6 1207.8 1177.4 1208.9 1179.2C1210.1 1180.9 1211.2 1182.7 1212.4 1184.5C1213.5 1186.3 1214.6 1188.1 1215.8 1189.9C1216.9 1191.7 1218.1 1193.4 1219.3 1195.2C1220.4 1197 1221.6 1198.8 1222.8 1200.5C1223.9 1202.3 1225.1 1204.1 1226.3 1205.9C1227.4 1207.6 1228.6 1209.4 1229.8 1211.2C1231 1212.9 1232.3 1214.6 1233.5 1216.3C1234.8 1218 1236 1219.7 1237.2 1221.5C1238.3 1223.3 1239.3 1225.2 1240.3 1227C1241.3 1228.8 1242.4 1230.7 1243.4 1232.5C1244.5 1234.3 1245.5 1236.1 1246.6 1238C1247.6 1239.8 1249.2 1242.5 1249.7 1243.5M1189.1 1118C1189.6 1118.9 1190.9 1121.8 1191.9 1123.7C1192.8 1125.5 1193.7 1127.4 1194.6 1129.3C1195.5 1131.2 1196.5 1133.1 1197.4 1135C1198.3 1136.8 1199.2 1138.7 1200.2 1140.6C1201.1 1142.5 1202 1144.4 1202.9 1146.3C1203.8 1148.1 1204.8 1150 1205.7 1151.9C1206.6 1153.8 1207.4 1155.7 1208.4 1157.6C1209.5 1159.4 1210.7 1161.1 1211.9 1162.8C1213 1164.6 1214.2 1166.3 1215.3 1168.1C1216.5 1169.8 1217.7 1171.6 1218.8 1173.3C1220 1175.1 1221.2 1176.8 1222.3 1178.6C1223.5 1180.3 1224.6 1182 1225.8 1183.8C1227 1185.5 1228.1 1187.3 1229.3 1189C1230.5 1190.8 1231.6 1192.5 1232.8 1194.2C1234 1196 1235.2 1197.7 1236.4 1199.4C1237.6 1201.2 1238.7 1202.9 1239.9 1204.6C1241.1 1206.3 1242.3 1208.1 1243.5 1209.8C1244.7 1211.5 1246 1213.1 1247.2 1214.9C1248.4 1216.6 1249.7 1218.2 1250.8 1220C1251.8 1221.8 1252.6 1223.8 1253.6 1225.6C1254.5 1227.5 1255.4 1229.3 1256.3 1231.2C1257.3 1233.1 1258.2 1234.9 1259.1 1236.8C1260.1 1238.6 1261.5 1241.4 1261.9 1242.3M1203.3 1118C1203.7 1118.9 1205.1 1121.8 1205.9 1123.6C1206.8 1125.5 1207.7 1127.4 1208.6 1129.3C1209.4 1131.1 1210.3 1133 1211.2 1134.9C1212.1 1136.8 1212.9 1138.6 1213.8 1140.5C1214.7 1142.4 1215.6 1144.3 1216.5 1146.2C1217.3 1148 1218.2 1149.9 1219.1 1151.8C1220 1153.7 1220.7 1155.6 1221.7 1157.4C1222.7 1159.2 1224 1160.9 1225.1 1162.6C1226.3 1164.3 1227.5 1166 1228.7 1167.7C1229.8 1169.4 1231 1171.1 1232.2 1172.8C1233.4 1174.5 1234.5 1176.2 1235.7 1177.9C1236.9 1179.7 1238.1 1181.4 1239.2 1183.1C1240.4 1184.8 1241.6 1186.5 1242.8 1188.2C1244 1189.9 1245.2 1191.6 1246.4 1193.3C1247.6 1194.9 1248.8 1196.6 1250 1198.3C1251.2 1200 1252.4 1201.7 1253.6 1203.4C1254.8 1205 1256 1206.7 1257.2 1208.4C1258.4 1210.1 1259.8 1211.7 1260.9 1213.4C1262.1 1215.1 1263.4 1216.7 1264.4 1218.5C1265.3 1220.3 1266 1222.3 1266.8 1224.2C1267.6 1226.1 1268.4 1228 1269.2 1229.9C1270.1 1231.8 1270.9 1233.7 1271.7 1235.6C1272.5 1237.5 1273.7 1240.3 1274.1 1241.2M892.2 1122.4C895.7 1129.1 905.7 1147.6 913.3 1162.4C920.9 1177.2 931.4 1197.6 937.7 1211.3C944 1225 948.8 1239 951.1 1244.6M891.1 1138C893.7 1143.2 901.1 1157.6 906.6 1169.1C912.2 1180.5 920 1197.9 924.4 1206.8C928.9 1215.7 931.8 1219.8 933.3 1222.4M1244.2 1162.4C1248.2 1169.1 1259.7 1192 1268.6 1202.4C1277.5 1212.7 1284.5 1219.8 1297.5 1224.6C1310.4 1229.4 1334.5 1229 1346.3 1231.2C1358.1 1233.5 1362.6 1235.5 1368.5 1237.9C1374.4 1240.3 1379.6 1244.4 1381.8 1245.7M1237.5 1118C1240.8 1123.6 1250.5 1141.7 1257.5 1151.3C1264.5 1160.9 1272.3 1169.4 1279.7 1175.7C1287.1 1182 1298.2 1186.8 1301.9 1189.1M1257.5 1118C1260.4 1122.4 1270.4 1137.2 1275.2 1144.6C1280.1 1152 1284.5 1159.4 1286.4 1162.4M1288.6 1180.2C1290.8 1181.7 1296 1186.5 1301.9 1189.1C1307.8 1191.6 1313 1193.7 1324.1 1195.7C1335.2 1197.8 1361.1 1200.3 1368.5 1201.3M1397.4 1206.8C1400.7 1209.4 1411.1 1214.4 1417.4 1222.4C1423.7 1230.3 1432.2 1249.2 1435.1 1254.6M1412.9 1195.7C1416.6 1199.4 1428.6 1210.2 1435.1 1217.9C1441.6 1225.7 1449.2 1238.3 1452 1242.3M1279.7 1118L1288.6 1180.2M1288.6 1151.3L1291.9 1133.5 1295.2 1140.2 1324.1 1134.7M1339.6 1133.5L1339.6 1178M1308.6 1190.2L1357.4 1182.4M1988 543.3C1998.6 563.9 2035.8 636.1 2051.3 666.7C2066.9 697.2 2075.5 710.6 2081.3 726.7C2087.2 742.8 2084.9 746.1 2086.3 763.3C2087.8 780.6 2089.2 816.1 2090 830C2090.8 843.9 2091.1 843.9 2091.3 846.7M2079.7 736.7C2081.9 743.9 2090.2 765.6 2093 780C2095.8 794.4 2095.5 811.7 2096.7 823.3C2097.8 835 2099.4 845.6 2100 850M2328 1220C2342.4 1220.4 2391.9 1219.4 2414.7 1222.3C2437.4 1225.2 2451.3 1230.4 2464.7 1237.3C2478 1244.3 2487.7 1254 2494.7 1264C2501.6 1274 2504.4 1291.8 2506.3 1297.3M2203 1257.3C2213.3 1255.4 2240.5 1247.6 2264.7 1245.7C2288.8 1243.7 2323 1244 2348 1245.7C2373 1247.3 2398 1250.9 2414.7 1255.7C2431.3 1260.4 2439.9 1267.3 2448 1274C2456.1 1280.7 2460.5 1292.1 2463 1295.7M2316.3 1214L2308.7 1233.3 2324.7 1233.3ZM2316.3 1214L2317.3 1233.3M2126 944.3C2128 946.9 2135.2 951 2138 960C2140.8 969 2142.2 981.6 2143 998.6C2143.8 1015.6 2141.6 1044.3 2143 1062C2144.4 1079.7 2148.7 1094.5 2151.5 1104.8C2154.3 1115.1 2156.7 1118.6 2160 1124C2163.3 1129.4 2169.4 1135.1 2171.3 1137.3M2035.8 1203.9C2044.7 1201.7 2066.8 1195.3 2088.9 1190.7C2111 1186.1 2142 1180.1 2168.5 1176.1C2195 1172.1 2226 1168.8 2248.1 1166.8C2270.2 1164.8 2292.3 1164.5 2301.2 1164.1M1993.3 1231.8C1997.7 1230.5 2004 1227.6 2019.9 1223.8C2035.8 1220 2064.1 1213.8 2088.9 1209.2C2113.7 1204.6 2142 1200.2 2168.5 1196C2195 1191.8 2221.6 1187.5 2248.1 1184C2274.6 1180.5 2305.6 1176.2 2327.7 1174.7C2349.8 1173.2 2366.3 1174.3 2380.8 1174.7C2395.3 1175.1 2397.9 1174.1 2414.7 1177.3C2431.4 1180.5 2463 1186.2 2481.3 1194C2499.6 1201.8 2517.5 1219 2524.7 1224M2099.5 1247.7C2111 1245.3 2143.7 1237.1 2168.5 1233.1C2193.3 1229.1 2225.1 1226 2248.1 1223.8C2271.1 1221.6 2296.8 1220.6 2306.5 1219.9"/>
<path fill="none" stroke="#000" stroke-width="3.2" stroke-linejoin="round" stroke-linecap="round" d="M1312.3 576L1314 680 1309.7 700 1308.6 766.6 1305.2 828.8"/>
<path fill="none" stroke="#000" stroke-width="1" stroke-linejoin="round" stroke-linecap="round" d="M1368.3 515C1366.4 519.2 1359.8 532.5 1356.7 540C1353.5 547.5 1350.7 553.9 1349.3 560C1347.9 566.1 1345.4 565.6 1348.3 576.7C1351.2 587.8 1361.7 616.1 1366.7 626.7C1371.7 637.2 1373.9 636.7 1378.3 640C1382.8 643.3 1387.5 646.7 1393.3 646.7C1399.2 646.7 1393.9 648.3 1413.3 640C1432.8 631.7 1488.3 607.2 1510 596.7C1531.7 586.1 1529.4 585 1543.3 576.7C1557.2 568.3 1578.3 554.4 1593.3 546.7C1608.3 538.9 1620 531.9 1633.3 530C1646.7 528.1 1659.2 533.1 1673.3 535C1687.4 536.9 1710.6 540.6 1718 541.7M1313.3 676.7C1314.7 678.6 1317.8 685.6 1321.7 688.3C1325.6 691.1 1324.7 691.7 1336.7 693.3C1348.6 695 1379.4 696.9 1393.3 698.3C1407.2 699.7 1414.7 699.2 1420 701.7C1425.3 704.2 1423.9 709.2 1425 713.3C1426.1 717.5 1425.3 723.3 1426.7 726.7C1428.1 730 1430.6 731.4 1433.3 733.3C1436.1 735.3 1440.8 736.1 1443.3 738.3C1445.8 740.6 1447.5 733.6 1448.3 746.7C1449.2 759.7 1448.3 805 1448.3 816.7M1315 826.7L1315 699.3 1421.7 704 1422.7 733.3 1441.7 736.7M1745.7 895.3L1745.7 913.3M1748.3 979.3L1748.3 997.3M1711.7 991L1711.7 1009M1745.7 911.7L1746.7 1004M1405 931.7L1405 948.3M1412.7 936.7L1413.3 948.3M1397.3 943.3L1395.3 950M1475 943.3L1476.7 966.7 1480 976.7 1480.7 961.7 1483.3 966.7 1535 966.7M1536.7 950L1536.7 1004M1607.3 1022.7L1607.3 1053.7M1726.7 1042.3L1775 1024M1711.3 540.7C1715.8 541.7 1731.6 543.4 1738 546.7C1744.4 549.9 1747.4 554.4 1749.7 560C1751.9 565.6 1751.3 560 1751.3 580C1751.3 600 1750.2 644.3 1749.7 680C1749.1 715.7 1748.4 771.2 1748 794C1747.6 816.8 1747.4 812.9 1747.3 816.7M2169.7 956.7L2181.3 956M2198 955.3L2209.7 955M2632.3 852.8L2632.3 875.3M2854.7 895.2L2854.7 917.7M3636 860L3717.7 790M3012.4 1322C3013.7 1323.3 3018.4 1326.7 3020.1 1329.7C3021.8 1332.7 3022.3 1338.2 3022.7 1339.9"/>
<path fill="none" stroke="#000" stroke-width="2.6" stroke-linejoin="round" stroke-linecap="round" d="M1458.3 625L1535 626.7 1533.3 731.7 1426.7 728.3 1425.7 673.3 1456.7 672.7ZM1266.7 831L1523.3 840 1750 848.3 2090 858.3 2148.7 860M2084.7 661.7C2085.8 660.3 2085.8 658.6 2091.3 653.3C2096.9 648.1 2108 637.5 2118 630C2128 622.5 2143 612.9 2151.3 608.3C2159.7 603.8 2159.7 603.4 2168 602.7C2176.3 601.9 2191.6 602.2 2201.3 604C2211.1 605.8 2221.1 609.6 2226.3 613.3C2231.6 617.1 2232.2 620 2233 626.7C2233.8 633.3 2231.9 644.4 2231.3 653.3C2230.8 662.2 2229.9 675.6 2229.7 680M2128 941.7L2148 942.7 2261.3 951.7 2348 960 2591.3 981.7M2264.7 955L2321.3 956.7 2321.3 963.3 2344.7 965 2344.7 1074M2518 1258L2621.3 1275.7M2631.3 1279L2751.3 1299M2763 1302.3L2851.3 1314.7M2856.3 1315.7L2983 1335.7M3359.3 1076.7L3382.7 1061.7 3552.7 1073.3M3687.7 1110.7L3715.3 1145.7"/>
<path fill="none" stroke="#000" stroke-width="1.4" stroke-linejoin="round" stroke-linecap="round" stroke-dasharray="40 8 4 8" d="M1303.3 871L1523.3 879 1843.3 890.7M1883.3 896.7L2066.7 903.3M2130 1004L2123.3 1130.7M2138 902.7L2248 910"/>
<path fill="none" stroke="#000" stroke-width="1.8" stroke-linejoin="round" stroke-linecap="round" d="M1853.3 980C1865 976.7 1895 965.6 1923.3 960C1951.7 954.4 1995.6 949.7 2023.3 946.7C2051.1 943.6 2073.3 941.9 2090 941.7C2106.7 941.4 2114.4 942.5 2123.3 945C2132.2 947.5 2138.9 951.4 2143.3 956.7C2147.8 961.9 2148.9 973.3 2150 976.7M1748.3 690L1749.3 846.7M1473.3 1105.7L1473.3 1042.3M1473.3 1042.3C1483.4 1040.6 1511.7 1035.7 1533.8 1032C1555.9 1028.3 1583.3 1024.9 1606 1020.1C1628.7 1015.3 1644.9 1011.6 1669.7 1003.1C1694.5 994.6 1722.8 981.9 1754.6 969.2C1786.4 956.5 1843.1 933.8 1860.8 926.7M1473.3 1105.7C1491.1 1101.8 1543.9 1091.5 1580 1082.3C1616.1 1073.2 1653.9 1063.7 1690 1050.7C1726.1 1037.6 1768.9 1017.3 1796.7 1004C1824.4 990.7 1846.7 976.2 1856.7 970.7M2023 545L2063 620.7 2170.3 550M2281.3 559.3L2367.3 665M2277.3 562.7L2363 667.3M2363 567.3L2383 592.7M2429.7 569.3L2443 585 2458 573.3M2551.3 593.3L2592.7 643.3M2758 760L2781.3 785 2811.3 760M2264.7 953.3L2263 963.3 2253 963.3 2243 1074 2241.3 1093.3M2809.7 1222.3L2964.7 1247.3M2964.7 1229L3028 1234M2539.7 1244.7L2996 1319.7M2984.3 768.3L3004.3 753.3 3042.7 808.3 3026 821.7ZM3207.7 760L3364.3 946.7 3369.3 956.7 3366 964 3357.7 967.3M3374.3 931.7L3559.3 1050 3579.3 1061.7 3602.7 1076.7M3364.3 951.7L3552.7 1070 3572.7 1082.7M3692.7 938.3L3717.7 973.3M3701 931.7L3717.7 955M3602.7 1010L3692.7 938.3M3610 1014L3692.7 947.3M3602.7 1011.7L3654.3 1074 3669.3 1093.3M3610 1014L3661 1074 3676 1093.3M3717.7 1020L3661 1068.3M3722.9 267L3721.5 765 3718 790 3715 1401M3681 398L3696.6 415 3723 394.4M3603.7 450.6L3661 517 3723 467.8M2599.3 591.7L2672.7 684 2758.7 616.7M2691 678.3L2739.3 641.7 2742.7 645 2774.3 619.3M2926 640L2946.7 666.7 2966.7 652.7M2851 760L2990 654.3M2962.7 766.7L3099.3 658.3M2927.7 794L2976 770 2996 794M3141 1192.3L3066 1184 3057.7 1262.3 3041 1262.3 3034.3 1295.7 3006 1292.3 2992.7 1290.7M2995.8 1322L2990.6 1368M3004.7 1174L2994.7 1290.7M3186 1247.3C3210.7 1250.4 3289.9 1259.8 3334.3 1265.7C3378.8 1271.5 3426.8 1278.7 3452.7 1282.3C3478.5 1285.9 3474.9 1287.3 3489.3 1287.3C3503.8 1287.3 3522.7 1285.1 3539.3 1282.3C3556 1279.6 3578.2 1273.7 3589.3 1270.7C3600.4 1267.6 3603.2 1265.1 3606 1264M3594.3 1085.7L3714.3 1219M3602.7 1084L3715.3 1207.3M3579.3 1139L3616 1117.3 3687.7 1204 3646 1238 3637 1230 3622 1247.3 3592 1213.3 3611 1192.3ZM3611 1270.7L3697.7 1209M3659.3 1074L3669.3 1080.7 3676 1074M3686 1107.3L3715.3 1084"/>
<path fill="none" stroke="#000" stroke-width="1.3" stroke-linejoin="round" stroke-linecap="round" stroke-dasharray="40 8 4 8" d="M1856.7 986.7C1878.9 981.4 1945.6 961.4 1990 955C2034.4 948.6 2101.1 949.4 2123.3 948.3M1559.3 1055C1567.1 1053.4 1580.5 1053.5 1606 1045.6C1631.5 1037.7 1687.4 1016.2 1712.2 1007.4C1737 998.5 1732.5 1001.7 1754.6 992.5C1776.7 983.3 1829.9 958.8 1845 952"/>
<path fill="#000" stroke="#000" stroke-width="0.50" stroke-linejoin="round" stroke-linecap="round" d="M1719 950L1720.5 955.5 1724.5 959.5 1730 961 1735.5 959.5 1739.5 955.5 1741 950ZM1595.7 972.7L1597.2 978.2 1601.2 982.2 1606.7 983.7 1612.2 982.2 1616.2 978.2 1617.7 972.7ZM1979.5 547.7L1987.2 556 1983.8 545.2ZM1997.8 576.1L2005.5 584.3 2002.2 573.6ZM2028 639.2L2035.3 647.7 2032.4 636.9ZM2041.3 667.5L2048.7 676.1 2045.7 665.2ZM2071.5 725.6L2078.4 734.5 2076.1 723.5ZM2084 660L2088.7 660 2121.3 720 2114.7 720.7ZM2840.8 920L2840.5 922.5 2839.6 924.8 2838.1 926.7 2836.1 928.2 2833.8 929.2 2831.3 929.5 2828.9 929.2 2826.6 928.2 2824.6 926.7 2823.1 924.8 2822.2 922.5 2821.8 920ZM3695.5 926.7L3695.2 929.1 3694.2 931.4 3692.7 933.4 3690.8 934.9 3688.5 935.8 3686 936.2 3683.5 935.8 3681.2 934.9 3679.3 933.4 3677.8 931.4 3676.8 929.1 3676.5 926.7ZM3382 1064.3L3386 1059.7 3390 1064.7ZM3415.3 1066.7L3419.3 1062 3423.3 1067ZM3448.7 1069L3452.7 1064.3 3456.7 1069.3ZM3482 1071.3L3486 1066.7 3490 1071.7ZM3515.3 1073.7L3519.3 1069 3523.3 1074ZM3548.7 1076L3552.7 1071.3 3556.7 1076.3Z"/>
<path fill="none" stroke="#000" stroke-width="2.2" stroke-linejoin="round" stroke-linecap="round" d="M2085 846.7L2088.3 866.7 2100 871.7M1453.3 1164C1457.2 1168.4 1471.7 1181.8 1476.7 1190.7C1481.7 1199.6 1481.9 1207.2 1483.3 1217.3C1484.7 1227.4 1484.7 1245.7 1485 1251.3M1455 1160.7L1496.7 1155.7M1506.7 1152.3L1520 1187.3M1520 1195.7L1536.7 1245.7M1697 565L1739.7 566 1734.7 694 1692 693ZM2088 663.3L2173 608.3 2224.7 615 2226.3 678.3M2121.3 720C2122.9 725.2 2127.6 737.4 2130.7 751C2133.7 764.6 2136.9 785.1 2139.7 801.7C2142.4 818.2 2145.8 842.2 2147 850.3M2363.7 1070.7L2351 1068.7 2353 968.3 2378 968.3 2378 965 2591.3 980M2851.3 950L3006.7 963.3M2363.7 1070.7L2364.7 1080.7 2556.3 1097.3 2559.7 1054M2593 1089L2759.7 1116.7 2764.7 1076.7 2831.3 1085.7 2804.7 1257.3 2753 1249 2753 1237.3 2714.7 1230.7 2713 1239 2681.3 1237.3 2679.7 1224 2656.3 1222.3 2651.3 1244 2586.3 1235.7 2589.7 1210.7 2574.7 1207.3ZM2824.7 1130.7L2849.7 1134 2853 1113.3 2959.7 1129 2956.3 1152.3 2979.7 1156.7 2958 1297.3 2986.3 1302.3 2994.7 1290.7 3028 1292.3M3339.3 830L3446.3 746 3527.7 836 3417.7 926ZM3622.7 850L3631 857.3 3717.7 782.7M3021 763.3L3006 745 3112.7 660 3197.7 760M3351 1082.3L3467.7 1089 3459.3 1172.3 3342.7 1162.3ZM3341 1169L3457.7 1178 3451 1274 3334.3 1265.7ZM3472.7 1093.3L3586 1100.7 3571 1255.7 3457.7 1247.3ZM3176 1256.7L3406 1285.7 3396 1364 3211 1340.7 3212.7 1319 3169.3 1313.3Z"/>
<path fill="none" stroke="#000" stroke-width="1.4" stroke-linejoin="round" stroke-linecap="round" stroke-dasharray="30 8" d="M1400 1040.7L1461.7 1040.7M1400 1097.3L1461.7 1097.3M1536.7 984L1536 1032.3"/>
<path fill="none" stroke="#000" stroke-width="1.6" stroke-linejoin="round" stroke-linecap="round" stroke-dasharray="45 10" d="M1578.3 1082.3L1575 1244"/>
<path fill="none" stroke="#000" stroke-width="0.90" stroke-linejoin="round" stroke-linecap="round" d="M1396.7 1207.3C1401.1 1211.2 1416.7 1222.9 1423.3 1230.7C1430 1238.4 1434.4 1250.1 1436.7 1254M1423.3 1194C1427.2 1198.4 1440.6 1211.1 1446.7 1220.7C1452.8 1230.2 1457.8 1246.2 1460 1251.3M1440 1177.3C1443.9 1182.9 1457.5 1198.3 1463.3 1210.7C1469.2 1223 1473.1 1244.6 1475 1251.3M1480 1160.7C1483.9 1164.6 1498.1 1174.6 1503.3 1184C1508.6 1193.4 1508.9 1205.9 1511.7 1217.3C1514.4 1228.7 1518.6 1246.5 1520 1252.3M3609.3 1274C3614.3 1272.6 3628.8 1266.8 3639.3 1265.7C3649.9 1264.6 3662.7 1264.8 3672.7 1267.3C3682.7 1269.8 3692.2 1276.8 3699.3 1280.7C3706.4 1284.6 3712.7 1289 3715.3 1290.7M3572.7 1304C3581 1302.3 3608.8 1294.6 3622.7 1294C3636.6 1293.4 3645.4 1297.3 3656 1300.7C3666.6 1304 3681 1311.8 3686 1314M3622.7 1260.7C3628.2 1258.4 3644.9 1250.7 3656 1247.3C3667.1 1244 3679.4 1240.1 3689.3 1240.7C3699.2 1241.2 3711 1249 3715.3 1250.7M3659.3 1237.3C3664.3 1237.3 3680 1235.7 3689.3 1237.3C3698.7 1239 3711 1245.7 3715.3 1247.3M3556 1314C3564.3 1312.3 3592.1 1305.1 3606 1304C3619.9 1302.9 3630.4 1305.1 3639.3 1307.3C3648.2 1309.6 3656 1315.7 3659.3 1317.3"/>
<path fill="none" stroke="#000" stroke-width="1" stroke-linejoin="round" stroke-linecap="round" stroke-dasharray="14 5 3 5" d="M1435 1160L1466 1177.3 1491.7 1200.7 1516.7 1225.7"/>
<path fill="#000" stroke="#000" stroke-width="0.70" stroke-linejoin="round" stroke-linecap="round" d="M1970 1234L1974.2 1245.7 1976.4 1243.9ZM1977.2 1227.7L1982.2 1240.9 1984.3 1239.1ZM1984.4 1221.4L1988.9 1233.8 1991.1 1232ZM1991.6 1215.1L1996.7 1228.6 1998.8 1226.8ZM1998.9 1209L2003 1223 2005.3 1221.3ZM2006.6 1203.2L2009.6 1214.4 2011.8 1212.7ZM2014.2 1197.5L2017.1 1208.4 2019.4 1206.7ZM2021.9 1191.8L2026.4 1206.8 2028.7 1205.1ZM2029.7 1186.3L2032.6 1198.6 2034.9 1197ZM2037.6 1180.9L2040.4 1193 2042.7 1191.4ZM2045.5 1175.5L2049.7 1191.5 2052 1189.9ZM2053.6 1170.5L2055 1184.2 2057.5 1182.9ZM2062.2 1166.2L2064 1181.8 2066.5 1180.6ZM2070.7 1162L2072.1 1175.7 2074.6 1174.4ZM2079.5 1158.2L2079.9 1172.8 2082.5 1171.8ZM2088.4 1154.6L2088.4 1166.7 2091 1165.6ZM2097.3 1151.1L2097.6 1165.7 2100.2 1164.7ZM2106.1 1147.5L2106.6 1163.4 2109.2 1162.4ZM2115.4 1145.3L2113.6 1159.2 2116.4 1158.5ZM2124.7 1143.1L2122.9 1158.1 2125.6 1157.5ZM2134 1140.9L2132.2 1155.6 2134.9 1154.9ZM2143.3 1138.7L2141.6 1150.1 2144.3 1149.5ZM2158 1140.7L2155.9 1160.5 2158.7 1160.6ZM2170.1 1141.1L2168 1159.7 2170.8 1159.8ZM2182.2 1141.6L2180.2 1158.1 2183 1158.2ZM2194.3 1142L2192.4 1156.6 2195.2 1156.7ZM2206.4 1142.5L2204.2 1163 2207 1163.1ZM2218.5 1142.9L2216.4 1160.6 2219.2 1160.8ZM2230.6 1143.4L2228.5 1162.9 2231.3 1163ZM2242.7 1143.8L2240.5 1164.5 2243.3 1164.6ZM2254.8 1144.3L2252.4 1163.8 2255.2 1163.9ZM2266.9 1144.9L2264.4 1165.9 2267.2 1166ZM2279 1145.5L2276.7 1162.7 2279.5 1162.8ZM2291.1 1146.2L2288.7 1166.2 2291.5 1166.4ZM2303.2 1146.8L2300.9 1164.3 2303.7 1164.4ZM2315.2 1147.4L2312.8 1168.4 2315.6 1168.5ZM2327.3 1148L2324.9 1168.6 2327.7 1168.7ZM2339.4 1148.6L2337.3 1163.6 2340.1 1163.7ZM2351.5 1149.3L2349 1164.5 2351.8 1164.7ZM2363.6 1150.2L2361 1166 2363.8 1166.2ZM2375.7 1151.1L2372.7 1172.3 2375.5 1172.5ZM2387.7 1152L2385 1169.4 2387.8 1169.6ZM2399.8 1152.9L2397 1171.6 2399.8 1171.8ZM2411.9 1153.8L2409.2 1170.2 2412 1170.4ZM2423.9 1155.4L2419.8 1173 2422.6 1173.4ZM2435.9 1157.2L2431.9 1174 2434.7 1174.4ZM2447.8 1159L2443.9 1175.5 2446.7 1175.9ZM2459.6 1161.7L2454 1179.5 2456.8 1180.2ZM2471.4 1164.5L2465.8 1182.3 2468.5 1182.9ZM2483.2 1167.2L2477.1 1187.3 2479.8 1187.9ZM2495 1170L2489.2 1188.5 2492 1189.1ZM2506.6 1173.3L2499.1 1193.1 2501.8 1193.9ZM2518.2 1176.9L2510.8 1196.1 2513.5 1196.9ZM2529.8 1180.4L2522.1 1200.6 2524.8 1201.4ZM2541.3 1184L2534.3 1202 2537 1202.8Z"/>
<path fill="none" stroke="#000" stroke-width="2.3" stroke-linejoin="round" stroke-linecap="round" stroke-dasharray="40 10 4 10" d="M1979.7 541.7C1982.2 549.7 1988.3 571.4 1994.7 590C2001.1 608.6 2010.8 632.8 2018 653.3C2025.2 673.9 2031.6 692.8 2038 713.3C2044.4 733.9 2048.6 752.8 2056.7 776.7C2064.8 800.6 2081.7 843.3 2086.7 856.7"/>
<path fill="none" stroke="#000" stroke-width="2.5" stroke-linejoin="round" stroke-linecap="round" d="M1981.3 545C1985.2 551.9 1995.8 569.7 2004.7 586.7C2013.6 603.6 2024.1 625.6 2034.7 646.7C2045.2 667.8 2060.5 698.3 2068 713.3C2075.5 728.3 2077.7 732.8 2079.7 736.7"/>
<path fill="none" stroke="#000" stroke-width="1.4" stroke-linejoin="round" stroke-linecap="round" stroke-dasharray="60 8 4 8" d="M2258 910.7C2308 914.4 2487.4 926.8 2558 933.3C2628.6 939.9 2638.6 941.7 2681.3 950C2724.1 958.3 2760.4 973.6 2814.7 983.3C2868.9 993.1 2974.7 1004.2 3006.7 1008.3"/>
<path fill="none" stroke="#000" stroke-width="1.4" stroke-linejoin="round" stroke-linecap="round" stroke-dasharray="60 10 5 10" d="M3486 986.7C3494.9 983.9 3519.3 977.8 3539.3 970C3559.3 962.2 3586.6 951.1 3606 940C3625.4 928.9 3637.4 918.9 3656 903.3C3674.6 887.8 3707.4 856.1 3717.7 846.7"/>
<path fill="none" stroke="#000" stroke-width="1.4" stroke-linejoin="round" stroke-linecap="round" stroke-dasharray="70 10 5 10" d="M3006 1010C3028.2 1011.7 3094.9 1018.1 3139.3 1020C3183.8 1021.9 3233.8 1022.5 3272.7 1021.7C3311.6 1020.8 3342.7 1018.6 3372.7 1015C3402.7 1011.4 3439.3 1002.5 3452.7 1000"/>
<path fill="none" stroke="#000" stroke-width="1.6" stroke-linejoin="round" stroke-linecap="round" stroke-dasharray="40 8 4 8" d="M3461 1048.3L3552.7 1060"/>
<circle cx="909" cy="328" r="1.2" fill="#000"/>
<circle cx="917" cy="327" r="1.2" fill="#000"/>
<circle cx="1220.8" cy="981.2" r="2.2" fill="none" stroke="#000" stroke-width="1.2"/>
<circle cx="1255.3" cy="987.8" r="2.2" fill="none" stroke="#000" stroke-width="1.2"/>
<circle cx="1326.3" cy="992.9" r="2.2" fill="none" stroke="#000" stroke-width="1.2"/>
<circle cx="1381.4" cy="1004.5" r="2.2" fill="#000"/>
<circle cx="1381.4" cy="1032.2" r="2.2" fill="#000"/>
<circle cx="1381.4" cy="1065.5" r="2.2" fill="#000"/>
<circle cx="1381.4" cy="1100" r="2.2" fill="#000"/>
<circle cx="1390.7" cy="1018.9" r="1.3" fill="#000"/>
<circle cx="1390.7" cy="1050" r="1.3" fill="#000"/>
<circle cx="1390.7" cy="1084.4" r="1.3" fill="#000"/>
<circle cx="1435.1" cy="953.4" r="2.2" fill="#000"/>
<circle cx="1317.3" cy="590" r="2.6" fill="#000"/>
<circle cx="1315.3" cy="624" r="2.6" fill="#000"/>
<circle cx="1313.3" cy="656.7" r="2.6" fill="#000"/>
<circle cx="1312" cy="691.7" r="2.6" fill="#000"/>
<circle cx="1311.9" cy="726.6" r="2.6" fill="#000"/>
<circle cx="1310.1" cy="760" r="2.6" fill="#000"/>
<circle cx="1331.7" cy="568.8" r="2.6" fill="#000"/>
<circle cx="1366.7" cy="556.8" r="2.6" fill="#000"/>
<circle cx="1401.7" cy="542.8" r="2.6" fill="#000"/>
<circle cx="1435" cy="529.5" r="2.6" fill="#000"/>
<circle cx="1360" cy="535" r="2.2" fill="#000"/>
<circle cx="1532.7" cy="828.3" r="9.5" fill="#000"/>
<circle cx="1606.7" cy="925" r="9.5" fill="#000"/>
<circle cx="2090" cy="833.3" r="9.5" fill="#000"/>
<circle cx="1528.3" cy="852.3" r="11" fill="#fff" stroke="#000" stroke-width="1.3"/>
<circle cx="2110.7" cy="865" r="11" fill="#fff" stroke="#000" stroke-width="1.3"/>
<circle cx="1745.7" cy="904.3" r="7" fill="none" stroke="#000" stroke-width="1.2"/>
<circle cx="1748.3" cy="988.3" r="7" fill="none" stroke="#000" stroke-width="1.2"/>
<circle cx="1711.7" cy="1000" r="7" fill="none" stroke="#000" stroke-width="1.2"/>
<circle cx="1435" cy="953.3" r="2.4" fill="#000"/>
<circle cx="1381.7" cy="994" r="2.4" fill="#000"/>
<circle cx="1381.7" cy="1010.7" r="2.4" fill="#000"/>
<circle cx="1381.7" cy="1035.7" r="2.4" fill="#000"/>
<circle cx="1381.7" cy="1067.3" r="2.4" fill="#000"/>
<circle cx="1381.7" cy="1100.7" r="2.4" fill="#000"/>
<circle cx="1381.7" cy="1120.7" r="2.4" fill="#000"/>
<circle cx="1390" cy="990.7" r="1.2" fill="#000"/>
<circle cx="1390" cy="1024" r="1.2" fill="#000"/>
<circle cx="1390" cy="1050.7" r="1.2" fill="#000"/>
<circle cx="1390" cy="1084" r="1.2" fill="#000"/>
<circle cx="1390" cy="1110.7" r="1.2" fill="#000"/>
<circle cx="1464" cy="1007.3" r="2.4" fill="#000"/>
<circle cx="1464" cy="1037.3" r="2.4" fill="#000"/>
<circle cx="1464" cy="1075.7" r="2.4" fill="#000"/>
<circle cx="1464" cy="1120.7" r="2.4" fill="#000"/>
<circle cx="1490" cy="1024" r="1.6" fill="#000"/>
<circle cx="1506.7" cy="1029" r="1.6" fill="#000"/>
<circle cx="1493.3" cy="1035.7" r="1.6" fill="#000"/>
<circle cx="1520" cy="1034" r="1.6" fill="#000"/>
<circle cx="1483.3" cy="1044" r="1.6" fill="#000"/>
<circle cx="1490" cy="1107.3" r="1.6" fill="#000"/>
<circle cx="1510" cy="1110.7" r="1.6" fill="#000"/>
<circle cx="1496.7" cy="1117.3" r="1.6" fill="#000"/>
<circle cx="1485" cy="1120.7" r="1.6" fill="#000"/>
<circle cx="1523.3" cy="1100.7" r="1.6" fill="#000"/>
<circle cx="1480" cy="1114" r="1.6" fill="#000"/>
<circle cx="1607.3" cy="1044.7" r="7" fill="none" stroke="#000" stroke-width="1.2"/>
<circle cx="1751.7" cy="1033.3" r="9" fill="none" stroke="#000" stroke-width="1.2"/>
<circle cx="1620" cy="1231.7" r="1.5" fill="#000"/>
<circle cx="1966.7" cy="1107.3" r="1.5" fill="#000"/>
<circle cx="1435" cy="1160" r="2.2" fill="#fff" stroke="#000" stroke-width="1"/>
<circle cx="1466" cy="1177.3" r="2.2" fill="#fff" stroke="#000" stroke-width="1"/>
<circle cx="1491.7" cy="1200.7" r="2.2" fill="#fff" stroke="#000" stroke-width="1"/>
<circle cx="1516.7" cy="1225.7" r="2.2" fill="#fff" stroke="#000" stroke-width="1"/>
<circle cx="2067" cy="664" r="1.3" fill="#000"/>
<circle cx="1998" cy="593.3" r="1.3" fill="#000"/>
<circle cx="2018" cy="655" r="1.3" fill="#000"/>
<circle cx="2038" cy="716.7" r="1.3" fill="#000"/>
<circle cx="2189.7" cy="954" r="6.5" fill="#fff" stroke="#000" stroke-width="1.2"/>
<circle cx="2597.3" cy="983.3" r="7.3" fill="#fff" stroke="#000" stroke-width="1.3"/>
<circle cx="2842.3" cy="1035.7" r="7.3" fill="#fff" stroke="#000" stroke-width="1.3"/>
<circle cx="2510.7" cy="871" r="8.5" fill="#000"/>
<circle cx="2673.7" cy="942.7" r="10.5" fill="#fff" stroke="#000" stroke-width="1.4"/>
<circle cx="2842.3" cy="949" r="10.5" fill="#fff" stroke="#000" stroke-width="1.4"/>
<circle cx="2618" cy="1078" r="1.5" fill="#000"/>
<circle cx="2544.7" cy="1250.7" r="2.6" fill="#000"/>
<circle cx="2579.3" cy="1256.4" r="2" fill="#000"/>
<circle cx="2614" cy="1262.1" r="2.6" fill="#000"/>
<circle cx="2648.7" cy="1267.8" r="2" fill="#000"/>
<circle cx="2683.3" cy="1273.5" r="2.6" fill="#000"/>
<circle cx="2718" cy="1279.2" r="2" fill="#000"/>
<circle cx="2752.7" cy="1284.9" r="2.6" fill="#000"/>
<circle cx="2787.3" cy="1290.6" r="2" fill="#000"/>
<circle cx="2822" cy="1296.3" r="2.6" fill="#000"/>
<circle cx="2856.7" cy="1302" r="2" fill="#000"/>
<circle cx="2891.3" cy="1307.7" r="2.6" fill="#000"/>
<circle cx="2926" cy="1313.4" r="2" fill="#000"/>
<circle cx="2960.7" cy="1319.1" r="2.6" fill="#000"/>
<circle cx="2995.3" cy="1324.8" r="2" fill="#000"/>
<circle cx="2528" cy="1232.3" r="2.4" fill="#000"/>
<circle cx="3283.7" cy="792.3" r="1.4" fill="#000"/>
<circle cx="3498.3" cy="955.7" r="10.5" fill="#fff" stroke="#000" stroke-width="1.4"/>
<circle cx="3281" cy="1028.3" r="10.5" fill="#fff" stroke="#000" stroke-width="1.4"/>
<circle cx="3584.3" cy="1023.3" r="10.5" fill="#fff" stroke="#000" stroke-width="1.4"/>
<circle cx="3616" cy="845" r="7" fill="#fff" stroke="#000" stroke-width="1.3"/>
<circle cx="3569.3" cy="806" r="2.6" fill="#000"/>
<circle cx="3596" cy="828.3" r="2.6" fill="#000"/>
<circle cx="3644.3" cy="843.3" r="2.6" fill="#000"/>
<circle cx="3676" cy="815" r="2.6" fill="#000"/>
<circle cx="3709.3" cy="786.7" r="2.6" fill="#000"/>
<circle cx="3530" cy="801.7" r="1.3" fill="#000"/>
<circle cx="2968.7" cy="719" r="1.5" fill="#000"/>
<circle cx="3126" cy="1209" r="2.8" fill="#000"/>
<circle cx="3102.7" cy="1236.7" r="2.8" fill="#000"/>
<circle cx="3079.3" cy="1262.3" r="2.8" fill="#000"/>
<circle cx="3056" cy="1290" r="2.8" fill="#000"/>
<circle cx="3024.3" cy="1313.3" r="2.8" fill="#000"/>
<circle cx="3241.7" cy="1083" r="7" fill="#fff" stroke="#000" stroke-width="1.3"/>
<circle cx="3317.7" cy="1094.7" r="2.8" fill="#000"/>
<circle cx="3289.3" cy="1120.7" r="2.8" fill="#000"/>
<circle cx="3260" cy="1153.3" r="2.8" fill="#000"/>
<circle cx="3236" cy="1180.7" r="2.8" fill="#000"/>
<circle cx="3212.7" cy="1207.3" r="2.8" fill="#000"/>
<circle cx="3189.3" cy="1235.7" r="2.8" fill="#000"/>
<circle cx="3162" cy="1266.7" r="2.8" fill="#000"/>
<circle cx="3136" cy="1294" r="2.8" fill="#000"/>
<circle cx="3106" cy="1329" r="2.8" fill="#000"/>
<circle cx="3083.3" cy="1355.7" r="2.8" fill="#000"/>
<circle cx="3372.7" cy="1079.3" r="2.4" fill="#000"/>
<circle cx="3406" cy="1080.2" r="2.4" fill="#000"/>
<circle cx="3439.3" cy="1081" r="2.4" fill="#000"/>
<circle cx="3472.7" cy="1081.8" r="2.4" fill="#000"/>
<circle cx="3506" cy="1082.7" r="2.4" fill="#000"/>
<circle cx="3539.3" cy="1083.5" r="2.4" fill="#000"/>
<circle cx="3572.7" cy="1084.3" r="2.4" fill="#000"/>
<circle cx="3152" cy="1237.3" r="1.5" fill="#000"/>
<circle cx="3197.7" cy="1250.3" r="2.6" fill="#000"/>
<circle cx="3229.3" cy="1254.3" r="2.6" fill="#000"/>
<circle cx="3261" cy="1258.3" r="2.6" fill="#000"/>
<circle cx="3292.7" cy="1262.3" r="2.6" fill="#000"/>
<circle cx="3331" cy="1267" r="2.6" fill="#000"/>
<circle cx="3362.7" cy="1271.7" r="2.6" fill="#000"/>
<circle cx="3394.3" cy="1275.7" r="2.6" fill="#000"/>
<circle cx="3427.7" cy="1280.7" r="2.6" fill="#000"/>
<circle cx="3492.7" cy="1289" r="2.6" fill="#000"/>
<circle cx="3524.3" cy="1286.3" r="2.6" fill="#000"/>
<circle cx="3592.7" cy="1271.7" r="2.6" fill="#000"/>
<circle cx="3622.7" cy="1112.3" r="2.8" fill="#000"/>
<circle cx="3646" cy="1144" r="2.8" fill="#000"/>
<circle cx="3669.3" cy="1172.3" r="2.8" fill="#000"/>
<circle cx="3693.3" cy="1200.7" r="2.8" fill="#000"/>
<circle cx="3629.3" cy="1255.7" r="2.6" fill="#000"/>
<circle cx="3659.3" cy="1234" r="2.6" fill="#000"/>
<circle cx="3689.3" cy="1213.3" r="2.6" fill="#000"/>
<circle cx="3664.3" cy="1275.7" r="5" fill="#fff" stroke="#000" stroke-width="1.2"/>
<text font-size="26" font-weight="400" letter-spacing="1" x="934" y="607">37.3</text>
<text font-size="27" font-weight="400" x="1190" y="848">P</text>
<text font-size="27" font-weight="400" text-anchor="middle" dy="0.35em" transform="translate(1014 962) rotate(57)">40</text>
<text font-size="27" font-weight="400" text-anchor="middle" dy="0.35em" transform="translate(1083 963) rotate(66)">35</text>
<text font-size="27" font-weight="400" text-anchor="middle" dy="0.35em" transform="translate(1172 953) rotate(72)">30</text>
<text font-size="33" font-weight="700" letter-spacing="1" class="cj" x="1034" y="1074">新鷲谷</text>
<text font-size="22" font-weight="400" letter-spacing="7" text-anchor="middle" dy="0.35em" transform="translate(1290 887) rotate(90)">8.2</text>
<text font-size="27" font-weight="400" text-anchor="middle" dy="0.35em" transform="translate(921 1211) rotate(63)">55</text>
<text font-size="27" font-weight="400" text-anchor="middle" dy="0.35em" transform="translate(973 1140) rotate(63)">50</text>
<text font-size="27" font-weight="400" text-anchor="middle" dy="0.35em" transform="translate(1033 1127) rotate(63)">45</text>
<text font-size="27" font-weight="400" text-anchor="middle" dy="0.35em" transform="translate(1291 724) rotate(80)">20</text>
<text font-size="26" font-weight="400" class="cj" x="1787" y="751">(駐)</text>
<text font-size="14" font-weight="400" class="cj" x="1521.3" y="857.8">下</text>
<text font-size="14" font-weight="400" class="cj" x="2103.7" y="870.5">下</text>
<text font-size="21" font-weight="400" letter-spacing="1" x="1359" y="903">18.1</text>
<text font-size="23" font-weight="400" letter-spacing="1" x="1769" y="915">16.63</text>
<text font-size="29" font-weight="400" letter-spacing="1" x="1584" y="952">NO.157-1</text>
<text font-size="30" font-weight="400" letter-spacing="1" x="1620" y="987">16.634</text>
<text font-size="22" font-weight="400" text-anchor="middle" dy="0.35em" transform="translate(1848 885) rotate(-70)">4.0</text>
<text font-size="22" font-weight="400" text-anchor="middle" dy="0.35em" transform="translate(1870 918) rotate(-75)">8.0</text>
<text font-size="22" font-weight="400" text-anchor="middle" dy="0.35em" transform="translate(1850 965) rotate(-70)">3.0</text>
<text font-size="22" font-weight="400" text-anchor="middle" dy="0.35em" transform="translate(2083 908) rotate(-70)">6.1</text>
<text font-size="27" font-weight="400" x="1375" y="1178">P</text>
<text font-size="23" font-weight="400" letter-spacing="1" x="1511" y="1072">17.4</text>
<text font-size="21" font-weight="400" text-anchor="middle" dy="0.35em" transform="translate(1486 1072) rotate(-82)">3.0</text>
<text font-size="26" font-weight="400" class="cj" x="1674" y="1153">(駐)</text>
<text font-size="23" font-weight="400" letter-spacing="1" x="1620" y="1214">17.3</text>
<text font-size="24" font-weight="400" letter-spacing="1" x="1978" y="1117">16.5</text>
<text font-size="23" font-weight="400" letter-spacing="1" x="2104" y="675">14.0</text>
<text font-size="29" font-weight="400" class="cj" x="2412" y="742">美</text>
<text font-size="29" font-weight="400" class="cj" x="2412" y="781">の</text>
<text font-size="29" font-weight="400" class="cj" x="2410" y="814">庄</text>
<text font-size="13" font-weight="400" class="cj" x="2667.2" y="947.7">下</text>
<text font-size="18" font-weight="400" x="2837.3" y="955.5">F</text>
<text font-size="33" font-weight="400" letter-spacing="1" x="2168" y="897">As</text>
<text font-size="31" font-weight="400" x="2349" y="905">3</text>
<text font-size="24" font-weight="400" letter-spacing="1" x="2444" y="915">14.36</text>
<text font-size="24" font-weight="400" letter-spacing="1" x="2748" y="960">13.0</text>
<text font-size="21" font-weight="400" text-anchor="middle" dy="0.35em" transform="translate(2571 932) rotate(-80)">7.3</text>
<text font-size="21" font-weight="400" text-anchor="middle" dy="0.35em" transform="translate(2237 905) rotate(-80)">6.1</text>
<text font-size="21" font-weight="400" text-anchor="middle" dy="0.35em" transform="translate(2836 993) rotate(-78)">6.4</text>
<text font-size="23" font-weight="400" letter-spacing="1" x="2634" y="1089">13.7</text>
<text font-size="32" font-weight="500" letter-spacing="1" class="cj" x="3229" y="1011">庵歩道橋</text>
<text font-size="23" font-weight="400" letter-spacing="1" x="3309" y="800">11.0</text>
<text font-size="23" font-weight="400" letter-spacing="1" x="3382" y="1048">11.79.</text>
<text font-size="31" font-weight="400" x="3512" y="963">4</text>
<text font-size="18" font-weight="400" x="3493.3" y="962.2">F</text>
<text font-size="13" font-weight="400" class="cj" x="3274.5" y="1033.3">下</text>
<text font-size="13" font-weight="400" class="cj" x="3577.8" y="1028.3">下</text>
<text font-size="23" font-weight="400" letter-spacing="1" x="2902" y="756">11.7</text>
<text font-size="32" font-weight="300" class="cj" x="3040" y="1120">スナック</text>
<text font-size="32" font-weight="300" class="cj" x="3037" y="1158">サボール</text>
<text font-size="23" font-weight="400" letter-spacing="1" x="3139" y="1222">15.2</text>
<text font-size="27" font-weight="400" text-anchor="middle" dy="0.35em" transform="translate(3550 1332) rotate(-14)">20</text>
</g><!--endmap-->
</svg>
</body>
</html>
